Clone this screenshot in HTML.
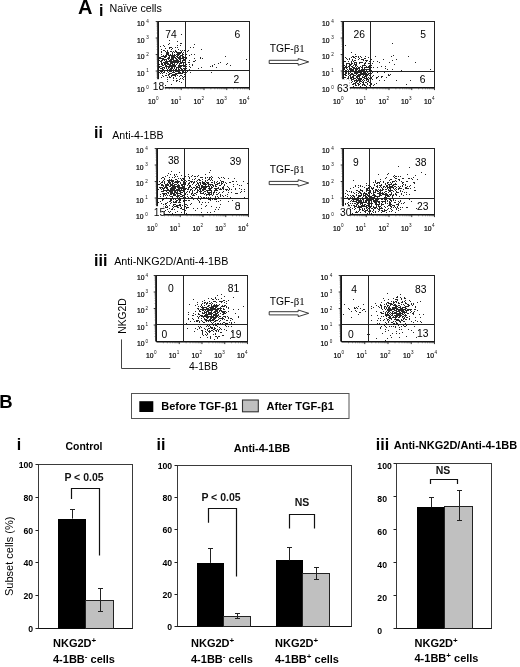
<!DOCTYPE html>
<html><head><meta charset="utf-8"><title>Figure</title>
<style>html,body{margin:0;padding:0;background:#fff}svg{display:block}</style>
</head><body>
<svg width="520" height="667" viewBox="0 0 520 667" font-family='"Liberation Sans", sans-serif'>
<rect width="520" height="667" fill="#fff"/>
<text x="78.0" y="14.2" font-size="20" font-weight="bold" text-anchor="start" fill="#000" >A</text>
<text x="99.0" y="15.6" font-size="16" font-weight="bold" text-anchor="start" fill="#000" >i</text>
<text x="109.5" y="11.8" font-size="10.7" font-weight="normal" text-anchor="start" fill="#000" >Naïve cells</text>
<text x="94.0" y="137.7" font-size="16" font-weight="bold" text-anchor="start" fill="#000" >ii</text>
<text x="112.3" y="138.8" font-size="10.6" font-weight="normal" text-anchor="start" fill="#000" >Anti-4-1BB</text>
<text x="94.0" y="265.5" font-size="16" font-weight="bold" text-anchor="start" fill="#000" >iii</text>
<text x="114.2" y="264.6" font-size="10.75" font-weight="normal" text-anchor="start" fill="#000" >Anti-NKG2D/Anti-4-1BB</text>
<path d="M190 47h1v1h-1zM168 58h1v1h-1zM173 66h1v1h-1zM177 60h1v1h-1zM165 62h1v1h-1zM173 55h1v1h-1zM173 74h1v1h-1zM183 79h1v1h-1zM179 59h1v1h-1zM166 63h1v1h-1zM171 68h1v1h-1zM178 69h1v1h-1zM170 68h1v1h-1zM170 70h1v1h-1zM178 67h1v1h-1zM174 52h1v1h-1zM175 61h1v1h-1zM174 54h1v1h-1zM169 60h1v1h-1zM193 61h1v1h-1zM172 58h1v1h-1zM169 73h1v1h-1zM183 77h1v1h-1zM168 59h1v1h-1zM165 66h1v1h-1zM183 68h1v1h-1zM178 58h1v1h-1zM166 67h1v1h-1zM161 54h1v1h-1zM187 71h1v1h-1zM169 43h1v1h-1zM181 66h1v1h-1zM171 67h1v1h-1zM165 64h1v1h-1zM176 59h1v1h-1zM175 75h1v1h-1zM167 61h1v1h-1zM175 55h1v1h-1zM174 65h1v1h-1zM175 57h1v1h-1zM171 66h1v1h-1zM170 64h1v1h-1zM178 66h1v1h-1zM172 62h1v1h-1zM185 65h1v1h-1zM169 57h1v1h-1zM172 53h1v1h-1zM169 69h1v1h-1zM164 68h1v1h-1zM161 71h1v1h-1zM162 63h1v1h-1zM170 60h1v1h-1zM161 62h1v1h-1zM188 62h1v1h-1zM170 62h1v1h-1zM174 64h1v1h-1zM188 50h1v1h-1zM170 55h1v1h-1zM176 70h1v1h-1zM180 70h1v1h-1zM179 53h1v1h-1zM182 55h1v1h-1zM177 55h1v1h-1zM163 55h1v1h-1zM171 55h1v1h-1zM167 58h1v1h-1zM186 64h1v1h-1zM179 64h1v1h-1zM178 49h1v1h-1zM179 67h1v1h-1zM172 68h1v1h-1zM172 55h1v1h-1zM172 67h1v1h-1zM181 58h1v1h-1zM168 68h1v1h-1zM164 59h1v1h-1zM176 60h1v1h-1zM177 57h1v1h-1zM167 62h1v1h-1zM174 72h1v1h-1zM170 66h1v1h-1zM176 69h1v1h-1zM183 64h1v1h-1zM178 73h1v1h-1zM160 61h1v1h-1zM174 61h1v1h-1zM173 71h1v1h-1zM168 63h1v1h-1zM166 55h1v1h-1zM169 55h1v1h-1zM164 64h1v1h-1zM179 66h1v1h-1zM174 66h1v1h-1zM172 59h1v1h-1zM180 45h1v1h-1zM177 52h1v1h-1zM176 51h1v1h-1zM182 53h1v1h-1zM175 76h1v1h-1zM166 65h1v1h-1zM169 67h1v1h-1zM167 54h1v1h-1zM175 50h1v1h-1zM162 68h1v1h-1zM173 59h1v1h-1zM159 67h1v1h-1zM176 68h1v1h-1zM165 56h1v1h-1zM178 70h1v1h-1zM161 63h1v1h-1zM160 57h1v1h-1zM167 51h1v1h-1zM164 70h1v1h-1zM173 69h1v1h-1zM171 62h1v1h-1zM180 73h1v1h-1zM184 66h1v1h-1zM180 78h1v1h-1zM185 53h1v1h-1zM182 56h1v1h-1zM163 72h1v1h-1zM177 75h1v1h-1zM177 62h1v1h-1zM184 57h1v1h-1zM166 66h1v1h-1zM178 62h1v1h-1zM162 60h1v1h-1zM164 56h1v1h-1zM164 50h1v1h-1zM172 61h1v1h-1zM182 65h1v1h-1zM163 45h1v1h-1zM171 58h1v1h-1zM182 60h1v1h-1zM178 72h1v1h-1zM159 57h1v1h-1zM179 69h1v1h-1zM168 67h1v1h-1zM176 74h1v1h-1zM176 67h1v1h-1zM185 63h1v1h-1zM174 75h1v1h-1zM170 73h1v1h-1zM184 70h1v1h-1zM175 74h1v1h-1zM165 59h1v1h-1zM183 71h1v1h-1zM165 57h1v1h-1zM182 72h1v1h-1zM183 58h1v1h-1zM159 72h1v1h-1zM169 66h1v1h-1zM180 59h1v1h-1zM176 54h1v1h-1zM181 82h1v1h-1zM168 53h1v1h-1zM171 65h1v1h-1zM161 51h1v1h-1zM179 70h1v1h-1zM170 63h1v1h-1zM177 54h1v1h-1zM167 63h1v1h-1zM167 81h1v1h-1zM173 58h1v1h-1zM171 76h1v1h-1zM179 71h1v1h-1zM170 71h1v1h-1zM173 64h1v1h-1zM165 75h1v1h-1zM172 65h1v1h-1zM180 56h1v1h-1zM171 56h1v1h-1zM182 58h1v1h-1zM174 56h1v1h-1zM177 53h1v1h-1zM184 50h1v1h-1zM169 65h1v1h-1zM167 52h1v1h-1zM175 51h1v1h-1zM171 51h1v1h-1zM180 58h1v1h-1zM167 64h1v1h-1zM170 59h1v1h-1zM171 60h1v1h-1zM173 62h1v1h-1zM163 58h1v1h-1zM172 64h1v1h-1zM179 58h1v1h-1zM185 56h1v1h-1zM181 73h1v1h-1zM173 61h1v1h-1zM167 70h1v1h-1zM168 61h1v1h-1zM179 61h1v1h-1zM165 61h1v1h-1zM179 73h1v1h-1zM168 54h1v1h-1zM167 53h1v1h-1zM180 53h1v1h-1zM162 69h1v1h-1zM159 64h1v1h-1zM181 62h1v1h-1zM178 61h1v1h-1zM163 62h1v1h-1zM168 52h1v1h-1zM173 75h1v1h-1zM189 69h1v1h-1zM167 77h1v1h-1zM171 63h1v1h-1zM175 69h1v1h-1zM182 62h1v1h-1zM160 58h1v1h-1zM166 54h1v1h-1zM186 68h1v1h-1zM176 73h1v1h-1zM164 57h1v1h-1zM166 75h1v1h-1zM201 49h1v1h-1zM165 48h1v1h-1zM179 63h1v1h-1zM175 60h1v1h-1zM164 46h1v1h-1zM161 56h1v1h-1zM179 81h1v1h-1zM172 54h1v1h-1zM184 76h1v1h-1zM180 57h1v1h-1zM166 68h1v1h-1zM159 58h1v1h-1zM176 71h1v1h-1zM177 67h1v1h-1zM172 48h1v1h-1zM190 72h1v1h-1zM162 64h1v1h-1zM177 63h1v1h-1zM180 67h1v1h-1zM165 55h1v1h-1zM192 64h1v1h-1zM171 71h1v1h-1zM165 63h1v1h-1zM183 56h1v1h-1zM168 66h1v1h-1zM166 60h1v1h-1zM165 65h1v1h-1zM173 60h1v1h-1zM178 57h1v1h-1zM190 67h1v1h-1zM172 63h1v1h-1zM161 49h1v1h-1zM184 72h1v1h-1zM172 52h1v1h-1zM178 55h1v1h-1zM182 54h1v1h-1zM170 61h1v1h-1zM163 65h1v1h-1zM172 66h1v1h-1zM171 49h1v1h-1zM180 66h1v1h-1zM182 76h1v1h-1zM173 56h1v1h-1zM178 65h1v1h-1zM183 66h1v1h-1zM172 57h1v1h-1zM180 50h1v1h-1zM177 59h1v1h-1zM174 70h1v1h-1zM186 57h1v1h-1zM168 57h1v1h-1zM186 66h1v1h-1zM181 63h1v1h-1zM169 56h1v1h-1zM166 73h1v1h-1zM176 61h1v1h-1zM161 77h1v1h-1zM169 74h1v1h-1zM166 56h1v1h-1zM169 77h1v1h-1zM182 73h1v1h-1zM172 75h1v1h-1zM178 52h1v1h-1zM165 51h1v1h-1zM178 54h1v1h-1zM176 78h1v1h-1zM169 47h1v1h-1zM180 72h1v1h-1zM194 58h1v1h-1zM164 62h1v1h-1zM178 68h1v1h-1zM180 62h1v1h-1zM183 57h1v1h-1zM167 66h1v1h-1zM163 59h1v1h-1zM176 62h1v1h-1zM173 70h1v1h-1zM169 61h1v1h-1zM163 76h1v1h-1zM180 65h1v1h-1zM164 67h1v1h-1zM170 69h1v1h-1zM178 53h1v1h-1zM166 53h1v1h-1zM161 64h1v1h-1zM181 51h1v1h-1zM184 69h1v1h-1zM161 66h1v1h-1zM177 71h1v1h-1zM183 54h1v1h-1zM183 59h1v1h-1zM168 55h1v1h-1zM166 52h1v1h-1zM169 71h1v1h-1zM174 55h1v1h-1zM180 75h1v1h-1zM183 65h1v1h-1zM180 55h1v1h-1zM171 69h1v1h-1zM160 66h1v1h-1zM175 73h1v1h-1zM169 76h1v1h-1zM164 72h1v1h-1zM160 71h1v1h-1zM176 58h1v1h-1zM186 58h1v1h-1zM164 71h1v1h-1zM160 70h1v1h-1zM189 62h1v1h-1zM162 65h1v1h-1zM162 73h1v1h-1zM160 68h1v1h-1zM175 58h1v1h-1zM175 62h1v1h-1zM163 70h1v1h-1zM160 46h1v1h-1zM174 67h1v1h-1zM161 58h1v1h-1zM173 72h1v1h-1zM162 67h1v1h-1zM169 58h1v1h-1zM171 61h1v1h-1zM182 78h1v1h-1zM174 57h1v1h-1zM177 56h1v1h-1zM171 73h1v1h-1zM181 43h1v1h-1zM179 72h1v1h-1zM161 61h1v1h-1zM176 52h1v1h-1zM183 60h1v1h-1zM166 61h1v1h-1zM198 68h1v1h-1zM169 40h1v1h-1zM180 43h1v1h-1zM186 72h1v1h-1zM167 50h1v1h-1zM179 54h1v1h-1zM185 61h1v1h-1zM174 74h1v1h-1zM165 70h1v1h-1zM171 84h1v1h-1zM168 75h1v1h-1zM182 57h1v1h-1zM185 73h1v1h-1zM184 62h1v1h-1zM189 66h1v1h-1zM183 63h1v1h-1zM163 67h1v1h-1zM176 56h1v1h-1zM170 47h1v1h-1zM173 51h1v1h-1zM161 52h1v1h-1zM177 45h1v1h-1zM161 68h1v1h-1zM184 68h1v1h-1zM187 70h1v1h-1zM189 60h1v1h-1zM184 65h1v1h-1zM170 77h1v1h-1zM182 61h1v1h-1zM163 56h1v1h-1zM168 64h1v1h-1zM171 59h1v1h-1zM179 52h1v1h-1zM172 74h1v1h-1zM180 68h1v1h-1zM181 65h1v1h-1zM159 66h1v1h-1zM187 51h1v1h-1zM171 57h1v1h-1zM162 71h1v1h-1zM171 47h1v1h-1zM181 68h1v1h-1zM162 75h1v1h-1zM164 63h1v1h-1zM178 71h1v1h-1zM172 72h1v1h-1zM186 70h1v1h-1zM174 68h1v1h-1zM174 63h1v1h-1zM167 79h1v1h-1zM192 65h1v1h-1zM161 72h1v1h-1zM170 54h1v1h-1zM160 73h1v1h-1zM176 64h1v1h-1zM166 62h1v1h-1zM162 70h1v1h-1zM171 75h1v1h-1zM162 58h1v1h-1zM177 73h1v1h-1zM184 59h1v1h-1zM181 69h1v1h-1zM163 86h1v1h-1zM176 81h1v1h-1zM178 60h1v1h-1zM184 74h1v1h-1zM183 62h1v1h-1zM170 51h1v1h-1zM186 54h1v1h-1zM185 66h1v1h-1zM194 61h1v1h-1zM179 56h1v1h-1zM182 69h1v1h-1zM168 72h1v1h-1zM174 60h1v1h-1zM181 34h1v1h-1zM169 64h1v1h-1zM172 56h1v1h-1zM180 63h1v1h-1zM181 75h1v1h-1zM166 59h1v1h-1zM180 60h1v1h-1zM164 60h1v1h-1zM177 41h1v1h-1zM194 54h1v1h-1zM159 60h1v1h-1zM170 65h1v1h-1zM162 56h1v1h-1zM168 44h1v1h-1zM167 71h1v1h-1zM179 65h1v1h-1zM175 71h1v1h-1zM175 65h1v1h-1zM179 76h1v1h-1zM175 47h1v1h-1zM173 57h1v1h-1zM172 70h1v1h-1zM182 50h1v1h-1zM184 60h1v1h-1zM168 74h1v1h-1zM167 69h1v1h-1zM183 52h1v1h-1zM169 70h1v1h-1zM179 79h1v1h-1zM173 80h1v1h-1zM168 70h1v1h-1zM174 62h1v1h-1zM177 80h1v1h-1zM175 66h1v1h-1zM173 77h1v1h-1zM180 52h1v1h-1zM181 55h1v1h-1zM161 60h1v1h-1zM169 48h1v1h-1zM181 52h1v1h-1zM163 69h1v1h-1zM183 72h1v1h-1zM162 59h1v1h-1zM173 65h1v1h-1zM189 55h1v1h-1zM165 85h1v1h-1zM173 78h1v1h-1zM180 61h1v1h-1zM177 61h1v1h-1zM176 80h1v1h-1zM182 71h1v1h-1zM226 64h1v1h-1zM194 44h1v1h-1zM195 60h1v1h-1zM201 67h1v1h-1zM202 58h1v1h-1zM191 54h1v1h-1zM212 65h1v1h-1zM246 59h1v1h-1zM212 66h1v1h-1zM177 47h1v1h-1zM200 58h1v1h-1zM163 50h1v1h-1zM218 63h1v1h-1zM200 57h1v1h-1zM210 66h1v1h-1zM193 47h1v1h-1zM220 62h1v1h-1zM214 64h1v1h-1zM189 64h1v1h-1zM211 72h1v1h-1zM216 67h1v1h-1zM230 65h1v1h-1zM179 57h1v1h-1zM227 63h1v1h-1zM225 56h1v1h-1z" fill="#000" opacity="0.85"/>
<rect x="158.50" y="21.50" width="91.00" height="66.00" fill="none" stroke="#222" stroke-width="1"/>
<line x1="158.10" y1="21.50" x2="158.10" y2="87.50" stroke="#111" stroke-width="1.8" />
<line x1="158.50" y1="87.80" x2="249.50" y2="87.80" stroke="#111" stroke-width="1.6" />
<line x1="155.70" y1="71.00" x2="158.50" y2="71.00" stroke="#222" stroke-width="0.9" />
<line x1="155.70" y1="54.50" x2="158.50" y2="54.50" stroke="#222" stroke-width="0.9" />
<line x1="155.70" y1="38.00" x2="158.50" y2="38.00" stroke="#222" stroke-width="0.9" />
<line x1="155.70" y1="21.50" x2="158.50" y2="21.50" stroke="#222" stroke-width="0.9" />
<line x1="181.25" y1="87.50" x2="181.25" y2="90.10" stroke="#222" stroke-width="0.9" />
<line x1="204.00" y1="87.50" x2="204.00" y2="90.10" stroke="#222" stroke-width="0.9" />
<line x1="226.75" y1="87.50" x2="226.75" y2="90.10" stroke="#222" stroke-width="0.9" />
<line x1="249.50" y1="87.50" x2="249.50" y2="90.10" stroke="#222" stroke-width="0.9" />
<path d="M156.60 82.53H158.50M165.35 87.50V89.30M156.60 79.63H158.50M169.35 87.50V89.30M156.60 77.57H158.50M172.20 87.50V89.30M156.60 75.97H158.50M174.40 87.50V89.30M156.60 74.66H158.50M176.20 87.50V89.30M156.60 73.56H158.50M177.73 87.50V89.30M156.60 72.60H158.50M179.05 87.50V89.30M156.60 71.75H158.50M180.21 87.50V89.30M156.60 66.03H158.50M188.10 87.50V89.30M156.60 63.13H158.50M192.10 87.50V89.30M156.60 61.07H158.50M194.95 87.50V89.30M156.60 59.47H158.50M197.15 87.50V89.30M156.60 58.16H158.50M198.95 87.50V89.30M156.60 57.06H158.50M200.48 87.50V89.30M156.60 56.10H158.50M201.80 87.50V89.30M156.60 55.25H158.50M202.96 87.50V89.30M156.60 49.53H158.50M210.85 87.50V89.30M156.60 46.63H158.50M214.85 87.50V89.30M156.60 44.57H158.50M217.70 87.50V89.30M156.60 42.97H158.50M219.90 87.50V89.30M156.60 41.66H158.50M221.70 87.50V89.30M156.60 40.56H158.50M223.23 87.50V89.30M156.60 39.60H158.50M224.55 87.50V89.30M156.60 38.75H158.50M225.71 87.50V89.30M156.60 33.03H158.50M233.60 87.50V89.30M156.60 30.13H158.50M237.60 87.50V89.30M156.60 28.07H158.50M240.45 87.50V89.30M156.60 26.47H158.50M242.65 87.50V89.30M156.60 25.16H158.50M244.45 87.50V89.30M156.60 24.06H158.50M245.98 87.50V89.30M156.60 23.10H158.50M247.30 87.50V89.30M156.60 22.25H158.50M248.46 87.50V89.30" stroke="#333" stroke-width="0.5" fill="none"/>
<line x1="185.50" y1="21.50" x2="185.50" y2="87.50" stroke="#222" stroke-width="1" />
<line x1="158.50" y1="70.50" x2="249.50" y2="70.50" stroke="#222" stroke-width="1" />
<rect x="152.5" y="79.2" width="12.3" height="11" fill="#fff"/>
<text x="136.9" y="92.4" font-size="6.8" font-weight="normal" text-anchor="start" fill="#000" stroke="#000" stroke-width="0.2">10</text>
<text x="146.2" y="88.5" font-size="4.6" font-weight="normal" text-anchor="start" fill="#111" >0</text>
<text x="136.9" y="75.9" font-size="6.8" font-weight="normal" text-anchor="start" fill="#000" stroke="#000" stroke-width="0.2">10</text>
<text x="146.2" y="72.0" font-size="4.6" font-weight="normal" text-anchor="start" fill="#111" >1</text>
<text x="136.9" y="59.4" font-size="6.8" font-weight="normal" text-anchor="start" fill="#000" stroke="#000" stroke-width="0.2">10</text>
<text x="146.2" y="55.5" font-size="4.6" font-weight="normal" text-anchor="start" fill="#111" >2</text>
<text x="136.9" y="42.9" font-size="6.8" font-weight="normal" text-anchor="start" fill="#000" stroke="#000" stroke-width="0.2">10</text>
<text x="146.2" y="39.0" font-size="4.6" font-weight="normal" text-anchor="start" fill="#111" >3</text>
<text x="136.9" y="26.4" font-size="6.8" font-weight="normal" text-anchor="start" fill="#000" stroke="#000" stroke-width="0.2">10</text>
<text x="146.2" y="22.5" font-size="4.6" font-weight="normal" text-anchor="start" fill="#111" >4</text>
<text x="147.9" y="104.1" font-size="6.8" font-weight="normal" text-anchor="start" fill="#000" stroke="#000" stroke-width="0.2">10</text>
<text x="155.9" y="99.5" font-size="4.6" font-weight="normal" text-anchor="start" fill="#111" >0</text>
<text x="170.7" y="104.1" font-size="6.8" font-weight="normal" text-anchor="start" fill="#000" stroke="#000" stroke-width="0.2">10</text>
<text x="178.7" y="99.5" font-size="4.6" font-weight="normal" text-anchor="start" fill="#111" >1</text>
<text x="193.4" y="104.1" font-size="6.8" font-weight="normal" text-anchor="start" fill="#000" stroke="#000" stroke-width="0.2">10</text>
<text x="201.4" y="99.5" font-size="4.6" font-weight="normal" text-anchor="start" fill="#111" >2</text>
<text x="216.2" y="104.1" font-size="6.8" font-weight="normal" text-anchor="start" fill="#000" stroke="#000" stroke-width="0.2">10</text>
<text x="224.2" y="99.5" font-size="4.6" font-weight="normal" text-anchor="start" fill="#111" >3</text>
<text x="238.9" y="104.1" font-size="6.8" font-weight="normal" text-anchor="start" fill="#000" stroke="#000" stroke-width="0.2">10</text>
<text x="246.9" y="99.5" font-size="4.6" font-weight="normal" text-anchor="start" fill="#111" >4</text>
<text x="165.3" y="38.0" font-size="10.3" font-weight="normal" text-anchor="start" fill="#000" >74</text>
<text x="234.6" y="37.6" font-size="10.3" font-weight="normal" text-anchor="start" fill="#000" >6</text>
<text x="233.6" y="83.4" font-size="10.3" font-weight="normal" text-anchor="start" fill="#000" >2</text>
<text x="152.8" y="89.9" font-size="10.3" font-weight="normal" text-anchor="start" fill="#000" >18</text>
<path d="M367 74h1v1h-1zM370 75h1v1h-1zM356 76h1v1h-1zM352 60h1v1h-1zM356 67h1v1h-1zM352 74h1v1h-1zM357 76h1v1h-1zM355 75h1v1h-1zM357 68h1v1h-1zM353 79h1v1h-1zM358 76h1v1h-1zM377 61h1v1h-1zM359 67h1v1h-1zM346 75h1v1h-1zM345 61h1v1h-1zM351 52h1v1h-1zM363 75h1v1h-1zM356 79h1v1h-1zM348 74h1v1h-1zM349 75h1v1h-1zM354 72h1v1h-1zM349 66h1v1h-1zM364 70h1v1h-1zM363 84h1v1h-1zM356 70h1v1h-1zM347 83h1v1h-1zM365 82h1v1h-1zM350 69h1v1h-1zM353 67h1v1h-1zM367 69h1v1h-1zM366 78h1v1h-1zM359 80h1v1h-1zM364 69h1v1h-1zM364 58h1v1h-1zM354 83h1v1h-1zM370 62h1v1h-1zM362 77h1v1h-1zM369 78h1v1h-1zM356 68h1v1h-1zM365 85h1v1h-1zM344 68h1v1h-1zM350 68h1v1h-1zM370 76h1v1h-1zM371 83h1v1h-1zM357 77h1v1h-1zM370 72h1v1h-1zM377 72h1v1h-1zM365 72h1v1h-1zM373 75h1v1h-1zM344 69h1v1h-1zM363 82h1v1h-1zM347 67h1v1h-1zM351 70h1v1h-1zM369 61h1v1h-1zM346 81h1v1h-1zM355 58h1v1h-1zM353 86h1v1h-1zM359 76h1v1h-1zM353 76h1v1h-1zM358 72h1v1h-1zM353 57h1v1h-1zM367 81h1v1h-1zM354 73h1v1h-1zM360 56h1v1h-1zM372 76h1v1h-1zM351 68h1v1h-1zM358 70h1v1h-1zM353 75h1v1h-1zM346 68h1v1h-1zM349 82h1v1h-1zM344 79h1v1h-1zM351 62h1v1h-1zM367 83h1v1h-1zM363 73h1v1h-1zM362 84h1v1h-1zM365 63h1v1h-1zM356 82h1v1h-1zM350 70h1v1h-1zM355 66h1v1h-1zM351 78h1v1h-1zM369 73h1v1h-1zM349 65h1v1h-1zM353 77h1v1h-1zM369 69h1v1h-1zM361 59h1v1h-1zM357 83h1v1h-1zM357 73h1v1h-1zM344 77h1v1h-1zM377 77h1v1h-1zM369 70h1v1h-1zM353 83h1v1h-1zM349 67h1v1h-1zM363 83h1v1h-1zM352 84h1v1h-1zM367 72h1v1h-1zM364 76h1v1h-1zM354 68h1v1h-1zM358 79h1v1h-1zM349 71h1v1h-1zM359 79h1v1h-1zM366 70h1v1h-1zM357 78h1v1h-1zM357 72h1v1h-1zM362 85h1v1h-1zM355 56h1v1h-1zM370 60h1v1h-1zM355 72h1v1h-1zM347 63h1v1h-1zM388 75h1v1h-1zM351 61h1v1h-1zM365 71h1v1h-1zM355 80h1v1h-1zM373 61h1v1h-1zM373 67h1v1h-1zM366 69h1v1h-1zM359 78h1v1h-1zM365 67h1v1h-1zM358 78h1v1h-1zM349 80h1v1h-1zM348 83h1v1h-1zM345 72h1v1h-1zM356 71h1v1h-1zM367 78h1v1h-1zM348 66h1v1h-1zM366 71h1v1h-1zM351 79h1v1h-1zM363 79h1v1h-1zM361 72h1v1h-1zM355 65h1v1h-1zM361 74h1v1h-1zM355 70h1v1h-1zM354 62h1v1h-1zM352 59h1v1h-1zM362 67h1v1h-1zM349 73h1v1h-1zM363 69h1v1h-1zM357 69h1v1h-1zM358 68h1v1h-1zM356 62h1v1h-1zM346 67h1v1h-1zM355 84h1v1h-1zM346 63h1v1h-1zM360 74h1v1h-1zM366 79h1v1h-1zM364 68h1v1h-1zM359 58h1v1h-1zM345 75h1v1h-1zM349 68h1v1h-1zM350 78h1v1h-1zM366 75h1v1h-1zM367 60h1v1h-1zM364 73h1v1h-1zM367 84h1v1h-1zM351 77h1v1h-1zM352 63h1v1h-1zM371 71h1v1h-1zM349 83h1v1h-1zM369 75h1v1h-1zM350 64h1v1h-1zM360 80h1v1h-1zM366 67h1v1h-1zM344 74h1v1h-1zM384 80h1v1h-1zM351 69h1v1h-1zM360 86h1v1h-1zM351 57h1v1h-1zM368 73h1v1h-1zM351 63h1v1h-1zM358 59h1v1h-1zM365 76h1v1h-1zM361 70h1v1h-1zM357 66h1v1h-1zM359 71h1v1h-1zM344 80h1v1h-1zM369 63h1v1h-1zM366 80h1v1h-1zM365 78h1v1h-1zM348 70h1v1h-1zM362 59h1v1h-1zM381 77h1v1h-1zM362 70h1v1h-1zM365 58h1v1h-1zM348 81h1v1h-1zM360 73h1v1h-1zM364 74h1v1h-1zM349 58h1v1h-1zM371 70h1v1h-1zM366 66h1v1h-1zM352 73h1v1h-1zM351 64h1v1h-1zM356 73h1v1h-1zM371 67h1v1h-1zM365 69h1v1h-1zM364 77h1v1h-1zM358 56h1v1h-1zM348 79h1v1h-1zM358 71h1v1h-1zM357 80h1v1h-1zM353 69h1v1h-1zM359 74h1v1h-1zM350 72h1v1h-1zM368 74h1v1h-1zM345 67h1v1h-1zM344 71h1v1h-1zM361 69h1v1h-1zM360 75h1v1h-1zM363 81h1v1h-1zM348 61h1v1h-1zM359 75h1v1h-1zM354 63h1v1h-1zM366 74h1v1h-1zM368 57h1v1h-1zM369 71h1v1h-1zM365 75h1v1h-1zM361 78h1v1h-1zM354 64h1v1h-1zM346 70h1v1h-1zM348 77h1v1h-1zM364 72h1v1h-1zM347 85h1v1h-1zM348 72h1v1h-1zM367 75h1v1h-1zM355 85h1v1h-1zM359 62h1v1h-1zM364 84h1v1h-1zM359 82h1v1h-1zM368 63h1v1h-1zM354 60h1v1h-1zM370 69h1v1h-1zM368 81h1v1h-1zM352 79h1v1h-1zM355 78h1v1h-1zM351 73h1v1h-1zM354 67h1v1h-1zM365 73h1v1h-1zM354 81h1v1h-1zM349 69h1v1h-1zM345 73h1v1h-1zM352 77h1v1h-1zM349 59h1v1h-1zM359 70h1v1h-1zM360 72h1v1h-1zM364 85h1v1h-1zM363 59h1v1h-1zM358 74h1v1h-1zM372 63h1v1h-1zM350 75h1v1h-1zM353 70h1v1h-1zM356 65h1v1h-1zM344 65h1v1h-1zM360 79h1v1h-1zM350 65h1v1h-1zM386 77h1v1h-1zM353 56h1v1h-1zM369 82h1v1h-1zM345 45h1v1h-1zM358 75h1v1h-1zM356 74h1v1h-1zM360 66h1v1h-1zM358 80h1v1h-1zM368 67h1v1h-1zM359 84h1v1h-1zM362 71h1v1h-1zM362 68h1v1h-1zM366 76h1v1h-1zM362 76h1v1h-1zM382 76h1v1h-1zM364 64h1v1h-1zM367 71h1v1h-1zM353 71h1v1h-1zM371 59h1v1h-1zM361 71h1v1h-1zM353 78h1v1h-1zM355 60h1v1h-1zM355 64h1v1h-1zM355 62h1v1h-1zM352 71h1v1h-1zM372 79h1v1h-1zM362 62h1v1h-1zM360 70h1v1h-1zM348 84h1v1h-1zM361 57h1v1h-1zM366 77h1v1h-1zM364 78h1v1h-1zM346 72h1v1h-1zM358 84h1v1h-1zM354 75h1v1h-1zM352 81h1v1h-1zM353 65h1v1h-1zM346 73h1v1h-1zM351 82h1v1h-1zM363 77h1v1h-1zM370 63h1v1h-1zM347 78h1v1h-1zM361 73h1v1h-1zM362 65h1v1h-1zM353 61h1v1h-1zM346 85h1v1h-1zM355 82h1v1h-1zM356 64h1v1h-1zM354 57h1v1h-1zM361 81h1v1h-1zM364 67h1v1h-1zM368 80h1v1h-1zM346 64h1v1h-1zM363 72h1v1h-1zM359 72h1v1h-1zM356 63h1v1h-1zM352 70h1v1h-1zM371 78h1v1h-1zM348 78h1v1h-1zM346 79h1v1h-1zM376 83h1v1h-1zM349 63h1v1h-1zM355 69h1v1h-1zM349 85h1v1h-1zM369 85h1v1h-1zM355 68h1v1h-1zM356 81h1v1h-1zM356 85h1v1h-1zM358 85h1v1h-1zM359 77h1v1h-1zM352 56h1v1h-1zM357 81h1v1h-1zM362 73h1v1h-1zM366 86h1v1h-1zM365 65h1v1h-1zM351 80h1v1h-1zM346 58h1v1h-1zM371 77h1v1h-1zM350 77h1v1h-1zM366 82h1v1h-1zM352 67h1v1h-1zM362 69h1v1h-1zM353 74h1v1h-1zM352 76h1v1h-1zM354 71h1v1h-1zM355 73h1v1h-1zM346 66h1v1h-1zM368 77h1v1h-1zM360 83h1v1h-1zM376 77h1v1h-1zM349 64h1v1h-1zM354 80h1v1h-1zM364 65h1v1h-1zM368 79h1v1h-1zM368 69h1v1h-1zM361 79h1v1h-1zM378 76h1v1h-1zM366 60h1v1h-1zM366 61h1v1h-1zM388 74h1v1h-1zM365 62h1v1h-1zM362 66h1v1h-1zM365 74h1v1h-1zM365 60h1v1h-1zM346 82h1v1h-1zM359 68h1v1h-1zM351 66h1v1h-1zM362 74h1v1h-1zM345 66h1v1h-1zM364 63h1v1h-1zM354 78h1v1h-1zM356 72h1v1h-1zM359 81h1v1h-1zM347 69h1v1h-1zM369 68h1v1h-1zM362 80h1v1h-1zM352 66h1v1h-1zM355 71h1v1h-1zM355 83h1v1h-1zM363 65h1v1h-1zM355 54h1v1h-1zM350 74h1v1h-1zM361 67h1v1h-1zM345 74h1v1h-1zM345 77h1v1h-1zM359 69h1v1h-1zM350 71h1v1h-1zM368 66h1v1h-1zM369 67h1v1h-1zM344 67h1v1h-1zM361 62h1v1h-1zM344 61h1v1h-1zM371 84h1v1h-1zM356 56h1v1h-1zM345 57h1v1h-1zM373 85h1v1h-1zM372 72h1v1h-1zM351 74h1v1h-1zM363 70h1v1h-1zM369 65h1v1h-1zM370 77h1v1h-1zM360 62h1v1h-1zM370 64h1v1h-1zM369 66h1v1h-1zM357 71h1v1h-1zM362 82h1v1h-1zM358 67h1v1h-1zM376 78h1v1h-1zM358 83h1v1h-1zM360 78h1v1h-1zM379 80h1v1h-1zM356 80h1v1h-1zM366 73h1v1h-1zM371 73h1v1h-1zM347 80h1v1h-1zM346 65h1v1h-1zM353 68h1v1h-1zM375 71h1v1h-1zM348 76h1v1h-1zM363 74h1v1h-1zM360 81h1v1h-1zM367 79h1v1h-1zM359 63h1v1h-1zM347 59h1v1h-1zM357 75h1v1h-1zM353 84h1v1h-1zM358 57h1v1h-1zM364 71h1v1h-1zM348 63h1v1h-1zM351 71h1v1h-1zM367 67h1v1h-1zM345 70h1v1h-1zM370 78h1v1h-1zM350 76h1v1h-1zM352 69h1v1h-1zM356 69h1v1h-1zM381 66h1v1h-1zM363 60h1v1h-1zM370 68h1v1h-1zM356 77h1v1h-1zM348 73h1v1h-1zM392 69h1v1h-1zM385 68h1v1h-1zM375 56h1v1h-1zM365 56h1v1h-1zM408 56h1v1h-1zM393 55h1v1h-1zM383 59h1v1h-1zM381 76h1v1h-1zM415 62h1v1h-1zM396 59h1v1h-1zM384 72h1v1h-1zM374 84h1v1h-1zM389 62h1v1h-1zM377 67h1v1h-1zM396 80h1v1h-1zM430 69h1v1h-1zM370 74h1v1h-1zM401 70h1v1h-1zM391 56h1v1h-1zM392 60h1v1h-1zM385 66h1v1h-1zM364 80h1v1h-1zM390 74h1v1h-1zM406 84h1v1h-1zM410 80h1v1h-1zM379 62h1v1h-1zM381 71h1v1h-1zM387 69h1v1h-1zM371 65h1v1h-1zM420 77h1v1h-1zM389 75h1v1h-1zM392 43h1v1h-1zM394 64h1v1h-1z" fill="#000" opacity="0.85"/>
<rect x="343.50" y="21.50" width="91.00" height="66.00" fill="none" stroke="#222" stroke-width="1"/>
<line x1="343.10" y1="21.50" x2="343.10" y2="87.50" stroke="#111" stroke-width="1.8" />
<line x1="343.50" y1="87.80" x2="434.50" y2="87.80" stroke="#111" stroke-width="1.6" />
<line x1="340.70" y1="71.00" x2="343.50" y2="71.00" stroke="#222" stroke-width="0.9" />
<line x1="340.70" y1="54.50" x2="343.50" y2="54.50" stroke="#222" stroke-width="0.9" />
<line x1="340.70" y1="38.00" x2="343.50" y2="38.00" stroke="#222" stroke-width="0.9" />
<line x1="340.70" y1="21.50" x2="343.50" y2="21.50" stroke="#222" stroke-width="0.9" />
<line x1="366.25" y1="87.50" x2="366.25" y2="90.10" stroke="#222" stroke-width="0.9" />
<line x1="389.00" y1="87.50" x2="389.00" y2="90.10" stroke="#222" stroke-width="0.9" />
<line x1="411.75" y1="87.50" x2="411.75" y2="90.10" stroke="#222" stroke-width="0.9" />
<line x1="434.50" y1="87.50" x2="434.50" y2="90.10" stroke="#222" stroke-width="0.9" />
<path d="M341.60 82.53H343.50M350.35 87.50V89.30M341.60 79.63H343.50M354.35 87.50V89.30M341.60 77.57H343.50M357.20 87.50V89.30M341.60 75.97H343.50M359.40 87.50V89.30M341.60 74.66H343.50M361.20 87.50V89.30M341.60 73.56H343.50M362.73 87.50V89.30M341.60 72.60H343.50M364.05 87.50V89.30M341.60 71.75H343.50M365.21 87.50V89.30M341.60 66.03H343.50M373.10 87.50V89.30M341.60 63.13H343.50M377.10 87.50V89.30M341.60 61.07H343.50M379.95 87.50V89.30M341.60 59.47H343.50M382.15 87.50V89.30M341.60 58.16H343.50M383.95 87.50V89.30M341.60 57.06H343.50M385.48 87.50V89.30M341.60 56.10H343.50M386.80 87.50V89.30M341.60 55.25H343.50M387.96 87.50V89.30M341.60 49.53H343.50M395.85 87.50V89.30M341.60 46.63H343.50M399.85 87.50V89.30M341.60 44.57H343.50M402.70 87.50V89.30M341.60 42.97H343.50M404.90 87.50V89.30M341.60 41.66H343.50M406.70 87.50V89.30M341.60 40.56H343.50M408.23 87.50V89.30M341.60 39.60H343.50M409.55 87.50V89.30M341.60 38.75H343.50M410.71 87.50V89.30M341.60 33.03H343.50M418.60 87.50V89.30M341.60 30.13H343.50M422.60 87.50V89.30M341.60 28.07H343.50M425.45 87.50V89.30M341.60 26.47H343.50M427.65 87.50V89.30M341.60 25.16H343.50M429.45 87.50V89.30M341.60 24.06H343.50M430.98 87.50V89.30M341.60 23.10H343.50M432.30 87.50V89.30M341.60 22.25H343.50M433.46 87.50V89.30" stroke="#333" stroke-width="0.5" fill="none"/>
<line x1="370.50" y1="21.50" x2="370.50" y2="87.50" stroke="#222" stroke-width="1" />
<line x1="343.50" y1="71.50" x2="434.50" y2="71.50" stroke="#222" stroke-width="1" />
<rect x="337.5" y="79.2" width="12.3" height="11" fill="#fff"/>
<text x="321.9" y="92.4" font-size="6.8" font-weight="normal" text-anchor="start" fill="#000" stroke="#000" stroke-width="0.2">10</text>
<text x="331.2" y="88.5" font-size="4.6" font-weight="normal" text-anchor="start" fill="#111" >0</text>
<text x="321.9" y="75.9" font-size="6.8" font-weight="normal" text-anchor="start" fill="#000" stroke="#000" stroke-width="0.2">10</text>
<text x="331.2" y="72.0" font-size="4.6" font-weight="normal" text-anchor="start" fill="#111" >1</text>
<text x="321.9" y="59.4" font-size="6.8" font-weight="normal" text-anchor="start" fill="#000" stroke="#000" stroke-width="0.2">10</text>
<text x="331.2" y="55.5" font-size="4.6" font-weight="normal" text-anchor="start" fill="#111" >2</text>
<text x="321.9" y="42.9" font-size="6.8" font-weight="normal" text-anchor="start" fill="#000" stroke="#000" stroke-width="0.2">10</text>
<text x="331.2" y="39.0" font-size="4.6" font-weight="normal" text-anchor="start" fill="#111" >3</text>
<text x="321.9" y="26.4" font-size="6.8" font-weight="normal" text-anchor="start" fill="#000" stroke="#000" stroke-width="0.2">10</text>
<text x="331.2" y="22.5" font-size="4.6" font-weight="normal" text-anchor="start" fill="#111" >4</text>
<text x="332.9" y="104.1" font-size="6.8" font-weight="normal" text-anchor="start" fill="#000" stroke="#000" stroke-width="0.2">10</text>
<text x="340.9" y="99.5" font-size="4.6" font-weight="normal" text-anchor="start" fill="#111" >0</text>
<text x="355.6" y="104.1" font-size="6.8" font-weight="normal" text-anchor="start" fill="#000" stroke="#000" stroke-width="0.2">10</text>
<text x="363.6" y="99.5" font-size="4.6" font-weight="normal" text-anchor="start" fill="#111" >1</text>
<text x="378.4" y="104.1" font-size="6.8" font-weight="normal" text-anchor="start" fill="#000" stroke="#000" stroke-width="0.2">10</text>
<text x="386.4" y="99.5" font-size="4.6" font-weight="normal" text-anchor="start" fill="#111" >2</text>
<text x="401.1" y="104.1" font-size="6.8" font-weight="normal" text-anchor="start" fill="#000" stroke="#000" stroke-width="0.2">10</text>
<text x="409.1" y="99.5" font-size="4.6" font-weight="normal" text-anchor="start" fill="#111" >3</text>
<text x="423.9" y="104.1" font-size="6.8" font-weight="normal" text-anchor="start" fill="#000" stroke="#000" stroke-width="0.2">10</text>
<text x="431.9" y="99.5" font-size="4.6" font-weight="normal" text-anchor="start" fill="#111" >4</text>
<text x="353.5" y="37.8" font-size="10.3" font-weight="normal" text-anchor="start" fill="#000" >26</text>
<text x="420.2" y="37.6" font-size="10.3" font-weight="normal" text-anchor="start" fill="#000" >5</text>
<text x="419.8" y="83.4" font-size="10.3" font-weight="normal" text-anchor="start" fill="#000" >6</text>
<text x="337.0" y="91.6" font-size="10.3" font-weight="normal" text-anchor="start" fill="#000" >63</text>
<path d="M170 189h1v1h-1zM175 182h1v1h-1zM180 187h1v1h-1zM167 184h1v1h-1zM170 190h1v1h-1zM180 188h1v1h-1zM170 182h1v1h-1zM176 189h1v1h-1zM168 185h1v1h-1zM169 186h1v1h-1zM164 187h1v1h-1zM172 186h1v1h-1zM164 178h1v1h-1zM173 185h1v1h-1zM172 191h1v1h-1zM189 180h1v1h-1zM172 189h1v1h-1zM174 185h1v1h-1zM171 191h1v1h-1zM172 192h1v1h-1zM174 193h1v1h-1zM162 191h1v1h-1zM181 192h1v1h-1zM166 184h1v1h-1zM166 186h1v1h-1zM162 181h1v1h-1zM184 186h1v1h-1zM175 186h1v1h-1zM169 183h1v1h-1zM178 193h1v1h-1zM173 199h1v1h-1zM167 188h1v1h-1zM175 199h1v1h-1zM175 194h1v1h-1zM179 202h1v1h-1zM164 194h1v1h-1zM165 190h1v1h-1zM171 190h1v1h-1zM191 187h1v1h-1zM164 181h1v1h-1zM180 182h1v1h-1zM173 194h1v1h-1zM176 190h1v1h-1zM178 195h1v1h-1zM162 199h1v1h-1zM175 190h1v1h-1zM168 190h1v1h-1zM159 181h1v1h-1zM179 198h1v1h-1zM169 190h1v1h-1zM175 192h1v1h-1zM163 199h1v1h-1zM166 193h1v1h-1zM176 186h1v1h-1zM162 177h1v1h-1zM174 184h1v1h-1zM167 187h1v1h-1zM166 187h1v1h-1zM178 188h1v1h-1zM170 184h1v1h-1zM170 185h1v1h-1zM176 184h1v1h-1zM164 190h1v1h-1zM179 188h1v1h-1zM180 190h1v1h-1zM183 189h1v1h-1zM164 179h1v1h-1zM174 191h1v1h-1zM174 175h1v1h-1zM185 176h1v1h-1zM184 184h1v1h-1zM164 183h1v1h-1zM164 182h1v1h-1zM171 196h1v1h-1zM167 192h1v1h-1zM177 195h1v1h-1zM183 187h1v1h-1zM165 186h1v1h-1zM181 180h1v1h-1zM177 182h1v1h-1zM170 188h1v1h-1zM158 189h1v1h-1zM170 174h1v1h-1zM172 185h1v1h-1zM195 193h1v1h-1zM165 184h1v1h-1zM199 202h1v1h-1zM173 187h1v1h-1zM185 197h1v1h-1zM170 186h1v1h-1zM175 184h1v1h-1zM183 182h1v1h-1zM165 185h1v1h-1zM176 198h1v1h-1zM160 194h1v1h-1zM173 195h1v1h-1zM170 180h1v1h-1zM183 186h1v1h-1zM184 191h1v1h-1zM179 189h1v1h-1zM172 184h1v1h-1zM159 184h1v1h-1zM177 180h1v1h-1zM179 191h1v1h-1zM183 179h1v1h-1zM178 196h1v1h-1zM184 178h1v1h-1zM165 187h1v1h-1zM163 189h1v1h-1zM172 190h1v1h-1zM173 188h1v1h-1zM172 188h1v1h-1zM163 195h1v1h-1zM171 187h1v1h-1zM162 188h1v1h-1zM175 191h1v1h-1zM160 196h1v1h-1zM169 177h1v1h-1zM175 198h1v1h-1zM184 187h1v1h-1zM177 189h1v1h-1zM170 193h1v1h-1zM167 183h1v1h-1zM168 189h1v1h-1zM179 190h1v1h-1zM177 193h1v1h-1zM177 191h1v1h-1zM167 195h1v1h-1zM166 185h1v1h-1zM178 184h1v1h-1zM182 188h1v1h-1zM182 184h1v1h-1zM174 182h1v1h-1zM162 193h1v1h-1zM171 193h1v1h-1zM163 188h1v1h-1zM174 194h1v1h-1zM183 188h1v1h-1zM176 179h1v1h-1zM176 181h1v1h-1zM172 183h1v1h-1zM179 193h1v1h-1zM185 188h1v1h-1zM170 196h1v1h-1zM167 180h1v1h-1zM174 192h1v1h-1zM174 177h1v1h-1zM169 181h1v1h-1zM169 195h1v1h-1zM189 182h1v1h-1zM175 187h1v1h-1zM164 188h1v1h-1zM172 182h1v1h-1zM177 186h1v1h-1zM178 186h1v1h-1zM174 174h1v1h-1zM171 179h1v1h-1zM167 189h1v1h-1zM173 193h1v1h-1zM180 194h1v1h-1zM170 191h1v1h-1zM175 188h1v1h-1zM168 192h1v1h-1zM178 190h1v1h-1zM177 185h1v1h-1zM168 181h1v1h-1zM160 183h1v1h-1zM174 187h1v1h-1zM173 180h1v1h-1zM177 196h1v1h-1zM166 198h1v1h-1zM176 174h1v1h-1zM176 196h1v1h-1zM177 197h1v1h-1zM171 188h1v1h-1zM180 183h1v1h-1zM181 185h1v1h-1zM189 186h1v1h-1zM185 183h1v1h-1zM175 181h1v1h-1zM174 186h1v1h-1zM175 179h1v1h-1zM182 186h1v1h-1zM163 185h1v1h-1zM184 189h1v1h-1zM174 189h1v1h-1zM184 190h1v1h-1zM179 172h1v1h-1zM162 184h1v1h-1zM172 181h1v1h-1zM168 182h1v1h-1zM160 188h1v1h-1zM170 198h1v1h-1zM166 191h1v1h-1zM183 178h1v1h-1zM177 190h1v1h-1zM178 178h1v1h-1zM166 188h1v1h-1zM178 181h1v1h-1zM172 187h1v1h-1zM173 183h1v1h-1zM163 190h1v1h-1zM167 185h1v1h-1zM161 185h1v1h-1zM169 179h1v1h-1zM169 182h1v1h-1zM173 201h1v1h-1zM172 193h1v1h-1zM177 192h1v1h-1zM161 189h1v1h-1zM175 176h1v1h-1zM171 189h1v1h-1zM161 182h1v1h-1zM163 180h1v1h-1zM172 180h1v1h-1zM163 191h1v1h-1zM183 181h1v1h-1zM178 182h1v1h-1zM189 178h1v1h-1zM183 200h1v1h-1zM170 192h1v1h-1zM180 193h1v1h-1zM166 190h1v1h-1zM170 183h1v1h-1zM178 187h1v1h-1zM181 194h1v1h-1zM179 199h1v1h-1zM173 186h1v1h-1zM173 189h1v1h-1zM177 176h1v1h-1zM182 192h1v1h-1zM181 179h1v1h-1zM173 181h1v1h-1zM179 187h1v1h-1zM163 193h1v1h-1zM171 171h1v1h-1zM168 184h1v1h-1zM177 181h1v1h-1zM169 180h1v1h-1zM181 188h1v1h-1zM161 191h1v1h-1zM183 190h1v1h-1zM177 183h1v1h-1zM163 177h1v1h-1zM179 185h1v1h-1zM182 187h1v1h-1zM172 177h1v1h-1zM180 198h1v1h-1zM177 187h1v1h-1zM184 188h1v1h-1zM181 189h1v1h-1zM181 187h1v1h-1zM163 196h1v1h-1zM175 195h1v1h-1zM180 192h1v1h-1zM165 193h1v1h-1zM168 180h1v1h-1zM161 187h1v1h-1zM174 188h1v1h-1zM191 181h1v1h-1zM173 190h1v1h-1zM178 185h1v1h-1zM180 191h1v1h-1zM171 184h1v1h-1zM171 194h1v1h-1zM162 187h1v1h-1zM183 197h1v1h-1zM161 178h1v1h-1zM179 181h1v1h-1zM174 190h1v1h-1zM183 183h1v1h-1zM172 196h1v1h-1zM162 182h1v1h-1zM171 181h1v1h-1zM169 191h1v1h-1zM162 185h1v1h-1zM161 184h1v1h-1zM170 194h1v1h-1zM187 189h1v1h-1zM171 180h1v1h-1zM165 176h1v1h-1zM182 180h1v1h-1zM176 182h1v1h-1zM165 195h1v1h-1zM184 180h1v1h-1zM167 190h1v1h-1zM168 173h1v1h-1zM159 187h1v1h-1zM178 189h1v1h-1zM183 184h1v1h-1zM160 187h1v1h-1zM179 186h1v1h-1zM182 195h1v1h-1zM220 194h1v1h-1zM203 192h1v1h-1zM210 190h1v1h-1zM200 192h1v1h-1zM194 195h1v1h-1zM214 191h1v1h-1zM208 197h1v1h-1zM222 181h1v1h-1zM206 190h1v1h-1zM179 195h1v1h-1zM216 186h1v1h-1zM204 197h1v1h-1zM199 185h1v1h-1zM188 176h1v1h-1zM206 184h1v1h-1zM192 192h1v1h-1zM207 182h1v1h-1zM213 186h1v1h-1zM203 183h1v1h-1zM187 207h1v1h-1zM209 190h1v1h-1zM199 179h1v1h-1zM182 185h1v1h-1zM217 188h1v1h-1zM198 196h1v1h-1zM200 184h1v1h-1zM204 189h1v1h-1zM214 188h1v1h-1zM210 188h1v1h-1zM209 187h1v1h-1zM190 185h1v1h-1zM192 197h1v1h-1zM226 189h1v1h-1zM218 177h1v1h-1zM177 194h1v1h-1zM180 178h1v1h-1zM204 191h1v1h-1zM189 177h1v1h-1zM198 200h1v1h-1zM205 202h1v1h-1zM217 196h1v1h-1zM212 184h1v1h-1zM209 192h1v1h-1zM164 193h1v1h-1zM183 191h1v1h-1zM198 175h1v1h-1zM195 176h1v1h-1zM185 193h1v1h-1zM188 184h1v1h-1zM190 190h1v1h-1zM205 178h1v1h-1zM215 185h1v1h-1zM197 176h1v1h-1zM216 189h1v1h-1zM205 189h1v1h-1zM222 192h1v1h-1zM205 185h1v1h-1zM202 187h1v1h-1zM205 186h1v1h-1zM208 183h1v1h-1zM216 188h1v1h-1zM205 191h1v1h-1zM211 194h1v1h-1zM197 191h1v1h-1zM200 190h1v1h-1zM192 181h1v1h-1zM221 182h1v1h-1zM216 192h1v1h-1zM224 184h1v1h-1zM194 193h1v1h-1zM199 182h1v1h-1zM244 197h1v1h-1zM221 181h1v1h-1zM215 186h1v1h-1zM208 188h1v1h-1zM196 194h1v1h-1zM197 187h1v1h-1zM188 187h1v1h-1zM193 183h1v1h-1zM189 183h1v1h-1zM196 184h1v1h-1zM187 194h1v1h-1zM214 182h1v1h-1zM220 195h1v1h-1zM196 187h1v1h-1zM213 193h1v1h-1zM236 181h1v1h-1zM183 195h1v1h-1zM210 170h1v1h-1zM215 190h1v1h-1zM194 187h1v1h-1zM203 187h1v1h-1zM197 180h1v1h-1zM211 191h1v1h-1zM237 193h1v1h-1zM240 192h1v1h-1zM220 196h1v1h-1zM197 199h1v1h-1zM211 187h1v1h-1zM202 190h1v1h-1zM211 179h1v1h-1zM211 190h1v1h-1zM185 180h1v1h-1zM213 198h1v1h-1zM191 182h1v1h-1zM197 192h1v1h-1zM216 194h1v1h-1zM195 185h1v1h-1zM208 186h1v1h-1zM208 194h1v1h-1zM204 186h1v1h-1zM182 178h1v1h-1zM211 182h1v1h-1zM206 186h1v1h-1zM241 191h1v1h-1zM221 184h1v1h-1zM195 189h1v1h-1zM198 184h1v1h-1zM232 181h1v1h-1zM200 196h1v1h-1zM205 184h1v1h-1zM199 191h1v1h-1zM195 178h1v1h-1zM199 188h1v1h-1zM235 188h1v1h-1zM235 189h1v1h-1zM209 188h1v1h-1zM218 197h1v1h-1zM230 197h1v1h-1zM189 191h1v1h-1zM209 189h1v1h-1zM200 191h1v1h-1zM197 183h1v1h-1zM198 187h1v1h-1zM205 183h1v1h-1zM223 186h1v1h-1zM216 201h1v1h-1zM208 184h1v1h-1zM224 178h1v1h-1zM163 186h1v1h-1zM204 188h1v1h-1zM209 194h1v1h-1zM227 194h1v1h-1zM206 198h1v1h-1zM227 186h1v1h-1zM200 182h1v1h-1zM215 189h1v1h-1zM205 188h1v1h-1zM212 177h1v1h-1zM213 185h1v1h-1zM188 189h1v1h-1zM219 189h1v1h-1zM199 186h1v1h-1zM205 180h1v1h-1zM203 193h1v1h-1zM171 185h1v1h-1zM218 188h1v1h-1zM190 196h1v1h-1zM196 188h1v1h-1zM200 189h1v1h-1zM181 190h1v1h-1zM200 177h1v1h-1zM218 183h1v1h-1zM225 182h1v1h-1zM228 190h1v1h-1zM199 187h1v1h-1zM187 191h1v1h-1zM211 192h1v1h-1zM230 182h1v1h-1zM188 174h1v1h-1zM226 183h1v1h-1zM201 185h1v1h-1zM158 184h1v1h-1zM204 182h1v1h-1zM215 188h1v1h-1zM221 183h1v1h-1zM210 177h1v1h-1zM163 198h1v1h-1zM185 182h1v1h-1zM197 186h1v1h-1zM186 192h1v1h-1zM189 192h1v1h-1zM216 207h1v1h-1zM228 192h1v1h-1zM185 184h1v1h-1zM201 188h1v1h-1zM200 193h1v1h-1zM215 184h1v1h-1zM209 186h1v1h-1zM208 199h1v1h-1zM212 185h1v1h-1zM208 193h1v1h-1zM193 195h1v1h-1zM206 195h1v1h-1zM216 184h1v1h-1zM200 180h1v1h-1zM247 183h1v1h-1zM163 194h1v1h-1zM229 188h1v1h-1zM191 189h1v1h-1zM184 175h1v1h-1zM202 193h1v1h-1zM225 195h1v1h-1zM236 193h1v1h-1zM196 181h1v1h-1zM207 191h1v1h-1zM207 183h1v1h-1zM192 190h1v1h-1zM194 181h1v1h-1zM201 197h1v1h-1zM211 193h1v1h-1zM209 178h1v1h-1zM227 196h1v1h-1zM196 192h1v1h-1zM205 177h1v1h-1zM193 187h1v1h-1zM192 195h1v1h-1zM192 193h1v1h-1zM192 179h1v1h-1zM190 181h1v1h-1zM219 183h1v1h-1zM208 182h1v1h-1zM202 182h1v1h-1zM214 190h1v1h-1zM199 180h1v1h-1zM201 177h1v1h-1zM220 180h1v1h-1zM191 176h1v1h-1zM205 187h1v1h-1zM212 195h1v1h-1zM218 201h1v1h-1zM226 190h1v1h-1zM219 185h1v1h-1zM200 188h1v1h-1zM196 186h1v1h-1zM223 187h1v1h-1zM188 180h1v1h-1zM185 189h1v1h-1zM216 190h1v1h-1zM209 179h1v1h-1zM216 182h1v1h-1zM220 189h1v1h-1zM212 187h1v1h-1zM210 192h1v1h-1zM204 183h1v1h-1zM190 186h1v1h-1zM167 175h1v1h-1zM170 203h1v1h-1zM209 195h1v1h-1zM217 190h1v1h-1zM204 184h1v1h-1zM190 189h1v1h-1zM214 192h1v1h-1zM203 184h1v1h-1zM203 190h1v1h-1zM186 181h1v1h-1zM210 197h1v1h-1zM231 192h1v1h-1zM233 184h1v1h-1zM202 183h1v1h-1zM206 187h1v1h-1zM210 184h1v1h-1zM219 182h1v1h-1zM233 181h1v1h-1zM201 186h1v1h-1zM187 185h1v1h-1zM243 181h1v1h-1zM188 197h1v1h-1zM203 197h1v1h-1zM191 194h1v1h-1zM223 182h1v1h-1zM176 193h1v1h-1zM230 198h1v1h-1zM239 185h1v1h-1zM218 187h1v1h-1zM223 181h1v1h-1zM241 185h1v1h-1zM208 179h1v1h-1zM197 190h1v1h-1zM228 178h1v1h-1zM181 184h1v1h-1zM198 190h1v1h-1zM202 186h1v1h-1zM205 174h1v1h-1zM222 195h1v1h-1zM201 191h1v1h-1zM201 187h1v1h-1zM211 176h1v1h-1zM220 188h1v1h-1zM214 183h1v1h-1zM213 194h1v1h-1zM192 188h1v1h-1zM225 189h1v1h-1zM198 183h1v1h-1zM198 179h1v1h-1zM194 190h1v1h-1zM201 193h1v1h-1zM223 196h1v1h-1zM203 186h1v1h-1zM221 189h1v1h-1zM217 194h1v1h-1zM217 181h1v1h-1zM193 182h1v1h-1zM214 181h1v1h-1zM212 180h1v1h-1zM193 194h1v1h-1zM197 189h1v1h-1zM223 189h1v1h-1zM199 189h1v1h-1zM202 189h1v1h-1zM208 202h1v1h-1zM233 186h1v1h-1zM210 180h1v1h-1zM194 182h1v1h-1zM223 191h1v1h-1zM191 193h1v1h-1zM182 190h1v1h-1zM208 185h1v1h-1zM192 184h1v1h-1zM208 190h1v1h-1zM211 188h1v1h-1zM209 177h1v1h-1zM202 185h1v1h-1zM202 181h1v1h-1zM203 189h1v1h-1zM186 188h1v1h-1zM221 177h1v1h-1zM222 187h1v1h-1zM198 185h1v1h-1zM235 193h1v1h-1zM212 182h1v1h-1zM207 192h1v1h-1zM220 185h1v1h-1zM188 183h1v1h-1zM211 186h1v1h-1zM202 179h1v1h-1zM229 189h1v1h-1zM210 189h1v1h-1zM218 193h1v1h-1zM203 182h1v1h-1zM203 188h1v1h-1zM212 199h1v1h-1zM211 184h1v1h-1zM213 192h1v1h-1zM239 188h1v1h-1zM204 187h1v1h-1zM224 185h1v1h-1zM228 187h1v1h-1zM206 194h1v1h-1zM220 204h1v1h-1zM168 193h1v1h-1zM211 178h1v1h-1zM241 189h1v1h-1zM207 194h1v1h-1zM234 178h1v1h-1zM200 183h1v1h-1zM194 176h1v1h-1zM205 193h1v1h-1zM171 192h1v1h-1zM229 182h1v1h-1zM194 179h1v1h-1zM201 198h1v1h-1zM215 196h1v1h-1zM181 175h1v1h-1zM219 192h1v1h-1zM188 188h1v1h-1zM202 177h1v1h-1zM195 188h1v1h-1zM191 197h1v1h-1zM223 177h1v1h-1zM187 196h1v1h-1zM244 191h1v1h-1zM231 189h1v1h-1zM207 190h1v1h-1zM209 193h1v1h-1zM222 188h1v1h-1zM232 200h1v1h-1zM208 192h1v1h-1zM217 184h1v1h-1zM207 177h1v1h-1zM206 182h1v1h-1zM228 201h1v1h-1zM214 199h1v1h-1zM209 184h1v1h-1zM189 187h1v1h-1zM192 175h1v1h-1zM204 194h1v1h-1zM207 186h1v1h-1zM210 200h1v1h-1zM210 194h1v1h-1zM219 178h1v1h-1zM237 184h1v1h-1zM223 188h1v1h-1zM197 182h1v1h-1zM189 185h1v1h-1zM227 189h1v1h-1zM207 180h1v1h-1zM244 189h1v1h-1zM193 199h1v1h-1zM209 172h1v1h-1zM176 201h1v1h-1zM205 181h1v1h-1zM192 191h1v1h-1zM217 183h1v1h-1zM210 185h1v1h-1zM222 183h1v1h-1zM201 204h1v1h-1zM193 208h1v1h-1zM219 207h1v1h-1zM188 200h1v1h-1zM185 200h1v1h-1zM215 197h1v1h-1zM186 208h1v1h-1zM184 197h1v1h-1zM215 209h1v1h-1zM205 206h1v1h-1zM197 208h1v1h-1zM198 197h1v1h-1zM206 197h1v1h-1zM210 212h1v1h-1zM186 204h1v1h-1zM207 212h1v1h-1zM165 204h1v1h-1zM199 201h1v1h-1zM182 196h1v1h-1zM211 206h1v1h-1zM191 203h1v1h-1zM239 205h1v1h-1zM201 212h1v1h-1zM158 202h1v1h-1zM174 195h1v1h-1zM216 199h1v1h-1zM186 213h1v1h-1zM218 209h1v1h-1zM186 200h1v1h-1zM209 199h1v1h-1zM184 200h1v1h-1zM206 205h1v1h-1zM210 199h1v1h-1zM214 211h1v1h-1zM185 206h1v1h-1zM175 212h1v1h-1zM208 198h1v1h-1zM202 202h1v1h-1zM177 206h1v1h-1zM195 210h1v1h-1zM179 204h1v1h-1zM190 204h1v1h-1zM215 199h1v1h-1zM201 208h1v1h-1zM200 199h1v1h-1zM220 200h1v1h-1zM159 210h1v1h-1zM178 202h1v1h-1zM187 205h1v1h-1zM180 204h1v1h-1zM160 201h1v1h-1zM175 204h1v1h-1zM171 200h1v1h-1zM189 200h1v1h-1zM170 199h1v1h-1zM179 197h1v1h-1zM177 207h1v1h-1zM173 204h1v1h-1zM172 213h1v1h-1zM185 204h1v1h-1zM174 204h1v1h-1zM170 200h1v1h-1zM166 194h1v1h-1zM176 192h1v1h-1zM179 200h1v1h-1zM162 200h1v1h-1zM175 206h1v1h-1zM171 209h1v1h-1zM163 213h1v1h-1zM181 212h1v1h-1zM173 207h1v1h-1zM176 200h1v1h-1zM184 195h1v1h-1zM179 205h1v1h-1zM172 206h1v1h-1zM174 206h1v1h-1zM175 201h1v1h-1zM184 208h1v1h-1zM167 202h1v1h-1zM178 207h1v1h-1zM174 209h1v1h-1zM159 208h1v1h-1zM176 202h1v1h-1zM165 207h1v1h-1zM161 203h1v1h-1zM182 209h1v1h-1zM188 207h1v1h-1zM176 206h1v1h-1zM180 205h1v1h-1zM170 201h1v1h-1zM171 202h1v1h-1zM182 205h1v1h-1zM166 197h1v1h-1zM184 209h1v1h-1zM185 198h1v1h-1zM185 194h1v1h-1zM180 202h1v1h-1zM169 205h1v1h-1zM167 209h1v1h-1zM184 206h1v1h-1zM179 201h1v1h-1zM180 200h1v1h-1zM180 208h1v1h-1zM163 204h1v1h-1zM173 205h1v1h-1zM172 208h1v1h-1zM168 211h1v1h-1zM163 207h1v1h-1zM180 206h1v1h-1zM186 207h1v1h-1zM185 210h1v1h-1zM177 211h1v1h-1zM172 209h1v1h-1zM169 208h1v1h-1zM183 201h1v1h-1zM180 199h1v1h-1zM170 211h1v1h-1zM181 196h1v1h-1zM174 202h1v1h-1zM169 212h1v1h-1zM180 196h1v1h-1zM181 207h1v1h-1zM184 199h1v1h-1zM169 201h1v1h-1zM171 199h1v1h-1zM164 211h1v1h-1zM175 202h1v1h-1zM165 203h1v1h-1zM167 207h1v1h-1zM183 209h1v1h-1zM181 208h1v1h-1zM173 202h1v1h-1zM165 210h1v1h-1zM166 207h1v1h-1zM167 206h1v1h-1zM172 197h1v1h-1zM176 205h1v1h-1zM166 205h1v1h-1zM178 205h1v1h-1zM177 200h1v1h-1zM178 199h1v1h-1zM177 205h1v1h-1zM163 206h1v1h-1zM166 203h1v1h-1zM165 206h1v1h-1z" fill="#000" opacity="0.85"/>
<rect x="157.50" y="148.50" width="91.00" height="66.00" fill="none" stroke="#222" stroke-width="1"/>
<line x1="157.10" y1="148.50" x2="157.10" y2="214.50" stroke="#111" stroke-width="1.8" />
<line x1="157.50" y1="214.80" x2="248.50" y2="214.80" stroke="#111" stroke-width="1.6" />
<line x1="154.70" y1="198.00" x2="157.50" y2="198.00" stroke="#222" stroke-width="0.9" />
<line x1="154.70" y1="181.50" x2="157.50" y2="181.50" stroke="#222" stroke-width="0.9" />
<line x1="154.70" y1="165.00" x2="157.50" y2="165.00" stroke="#222" stroke-width="0.9" />
<line x1="154.70" y1="148.50" x2="157.50" y2="148.50" stroke="#222" stroke-width="0.9" />
<line x1="180.25" y1="214.50" x2="180.25" y2="217.10" stroke="#222" stroke-width="0.9" />
<line x1="203.00" y1="214.50" x2="203.00" y2="217.10" stroke="#222" stroke-width="0.9" />
<line x1="225.75" y1="214.50" x2="225.75" y2="217.10" stroke="#222" stroke-width="0.9" />
<line x1="248.50" y1="214.50" x2="248.50" y2="217.10" stroke="#222" stroke-width="0.9" />
<path d="M155.60 209.53H157.50M164.35 214.50V216.30M155.60 206.63H157.50M168.35 214.50V216.30M155.60 204.57H157.50M171.20 214.50V216.30M155.60 202.97H157.50M173.40 214.50V216.30M155.60 201.66H157.50M175.20 214.50V216.30M155.60 200.56H157.50M176.73 214.50V216.30M155.60 199.60H157.50M178.05 214.50V216.30M155.60 198.75H157.50M179.21 214.50V216.30M155.60 193.03H157.50M187.10 214.50V216.30M155.60 190.13H157.50M191.10 214.50V216.30M155.60 188.07H157.50M193.95 214.50V216.30M155.60 186.47H157.50M196.15 214.50V216.30M155.60 185.16H157.50M197.95 214.50V216.30M155.60 184.06H157.50M199.48 214.50V216.30M155.60 183.10H157.50M200.80 214.50V216.30M155.60 182.25H157.50M201.96 214.50V216.30M155.60 176.53H157.50M209.85 214.50V216.30M155.60 173.63H157.50M213.85 214.50V216.30M155.60 171.57H157.50M216.70 214.50V216.30M155.60 169.97H157.50M218.90 214.50V216.30M155.60 168.66H157.50M220.70 214.50V216.30M155.60 167.56H157.50M222.23 214.50V216.30M155.60 166.60H157.50M223.55 214.50V216.30M155.60 165.75H157.50M224.71 214.50V216.30M155.60 160.03H157.50M232.60 214.50V216.30M155.60 157.13H157.50M236.60 214.50V216.30M155.60 155.07H157.50M239.45 214.50V216.30M155.60 153.47H157.50M241.65 214.50V216.30M155.60 152.16H157.50M243.45 214.50V216.30M155.60 151.06H157.50M244.98 214.50V216.30M155.60 150.10H157.50M246.30 214.50V216.30M155.60 149.25H157.50M247.46 214.50V216.30" stroke="#333" stroke-width="0.5" fill="none"/>
<line x1="184.50" y1="148.50" x2="184.50" y2="214.50" stroke="#222" stroke-width="1" />
<line x1="157.50" y1="198.50" x2="248.50" y2="198.50" stroke="#222" stroke-width="1" />
<rect x="151.5" y="206.2" width="12.3" height="11" fill="#fff"/>
<text x="135.9" y="219.4" font-size="6.8" font-weight="normal" text-anchor="start" fill="#000" stroke="#000" stroke-width="0.2">10</text>
<text x="145.2" y="215.5" font-size="4.6" font-weight="normal" text-anchor="start" fill="#111" >0</text>
<text x="135.9" y="202.9" font-size="6.8" font-weight="normal" text-anchor="start" fill="#000" stroke="#000" stroke-width="0.2">10</text>
<text x="145.2" y="199.0" font-size="4.6" font-weight="normal" text-anchor="start" fill="#111" >1</text>
<text x="135.9" y="186.4" font-size="6.8" font-weight="normal" text-anchor="start" fill="#000" stroke="#000" stroke-width="0.2">10</text>
<text x="145.2" y="182.5" font-size="4.6" font-weight="normal" text-anchor="start" fill="#111" >2</text>
<text x="135.9" y="169.9" font-size="6.8" font-weight="normal" text-anchor="start" fill="#000" stroke="#000" stroke-width="0.2">10</text>
<text x="145.2" y="166.0" font-size="4.6" font-weight="normal" text-anchor="start" fill="#111" >3</text>
<text x="135.9" y="153.4" font-size="6.8" font-weight="normal" text-anchor="start" fill="#000" stroke="#000" stroke-width="0.2">10</text>
<text x="145.2" y="149.5" font-size="4.6" font-weight="normal" text-anchor="start" fill="#111" >4</text>
<text x="146.9" y="231.1" font-size="6.8" font-weight="normal" text-anchor="start" fill="#000" stroke="#000" stroke-width="0.2">10</text>
<text x="154.9" y="226.5" font-size="4.6" font-weight="normal" text-anchor="start" fill="#111" >0</text>
<text x="169.7" y="231.1" font-size="6.8" font-weight="normal" text-anchor="start" fill="#000" stroke="#000" stroke-width="0.2">10</text>
<text x="177.7" y="226.5" font-size="4.6" font-weight="normal" text-anchor="start" fill="#111" >1</text>
<text x="192.4" y="231.1" font-size="6.8" font-weight="normal" text-anchor="start" fill="#000" stroke="#000" stroke-width="0.2">10</text>
<text x="200.4" y="226.5" font-size="4.6" font-weight="normal" text-anchor="start" fill="#111" >2</text>
<text x="215.2" y="231.1" font-size="6.8" font-weight="normal" text-anchor="start" fill="#000" stroke="#000" stroke-width="0.2">10</text>
<text x="223.2" y="226.5" font-size="4.6" font-weight="normal" text-anchor="start" fill="#111" >3</text>
<text x="237.9" y="231.1" font-size="6.8" font-weight="normal" text-anchor="start" fill="#000" stroke="#000" stroke-width="0.2">10</text>
<text x="245.9" y="226.5" font-size="4.6" font-weight="normal" text-anchor="start" fill="#111" >4</text>
<text x="167.9" y="163.6" font-size="10.3" font-weight="normal" text-anchor="start" fill="#000" >38</text>
<text x="229.8" y="164.8" font-size="10.3" font-weight="normal" text-anchor="start" fill="#000" >39</text>
<text x="234.7" y="210.3" font-size="10.3" font-weight="normal" text-anchor="start" fill="#000" >8</text>
<text x="153.8" y="216.1" font-size="10.3" font-weight="normal" text-anchor="start" fill="#000" >15</text>
<path d="M356 198h1v1h-1zM356 201h1v1h-1zM359 207h1v1h-1zM361 195h1v1h-1zM375 199h1v1h-1zM371 201h1v1h-1zM374 201h1v1h-1zM353 180h1v1h-1zM360 200h1v1h-1zM356 195h1v1h-1zM357 202h1v1h-1zM366 205h1v1h-1zM370 186h1v1h-1zM354 203h1v1h-1zM353 200h1v1h-1zM365 196h1v1h-1zM367 200h1v1h-1zM360 193h1v1h-1zM355 186h1v1h-1zM358 199h1v1h-1zM356 194h1v1h-1zM352 213h1v1h-1zM366 206h1v1h-1zM358 206h1v1h-1zM364 202h1v1h-1zM360 195h1v1h-1zM365 202h1v1h-1zM371 213h1v1h-1zM363 199h1v1h-1zM370 198h1v1h-1zM365 195h1v1h-1zM345 203h1v1h-1zM356 200h1v1h-1zM352 195h1v1h-1zM358 200h1v1h-1zM359 206h1v1h-1zM362 210h1v1h-1zM373 206h1v1h-1zM363 206h1v1h-1zM356 202h1v1h-1zM367 189h1v1h-1zM351 192h1v1h-1zM369 197h1v1h-1zM368 206h1v1h-1zM360 206h1v1h-1zM354 199h1v1h-1zM366 200h1v1h-1zM364 208h1v1h-1zM368 203h1v1h-1zM364 209h1v1h-1zM357 200h1v1h-1zM367 197h1v1h-1zM370 190h1v1h-1zM347 191h1v1h-1zM347 206h1v1h-1zM365 211h1v1h-1zM363 201h1v1h-1zM355 185h1v1h-1zM370 207h1v1h-1zM380 186h1v1h-1zM357 203h1v1h-1zM357 199h1v1h-1zM358 205h1v1h-1zM368 202h1v1h-1zM348 195h1v1h-1zM360 203h1v1h-1zM361 203h1v1h-1zM366 201h1v1h-1zM361 201h1v1h-1zM355 199h1v1h-1zM350 207h1v1h-1zM353 195h1v1h-1zM353 196h1v1h-1zM360 196h1v1h-1zM350 209h1v1h-1zM366 197h1v1h-1zM371 204h1v1h-1zM351 200h1v1h-1zM368 190h1v1h-1zM367 194h1v1h-1zM353 201h1v1h-1zM372 197h1v1h-1zM365 200h1v1h-1zM361 193h1v1h-1zM359 202h1v1h-1zM348 209h1v1h-1zM368 193h1v1h-1zM373 210h1v1h-1zM356 199h1v1h-1zM369 207h1v1h-1zM347 207h1v1h-1zM368 195h1v1h-1zM361 206h1v1h-1zM358 203h1v1h-1zM367 199h1v1h-1zM358 196h1v1h-1zM354 209h1v1h-1zM360 186h1v1h-1zM363 198h1v1h-1zM354 206h1v1h-1zM360 189h1v1h-1zM345 204h1v1h-1zM356 205h1v1h-1zM351 196h1v1h-1zM369 209h1v1h-1zM353 205h1v1h-1zM363 195h1v1h-1zM368 201h1v1h-1zM348 204h1v1h-1zM364 198h1v1h-1zM360 192h1v1h-1zM345 196h1v1h-1zM357 197h1v1h-1zM355 206h1v1h-1zM359 209h1v1h-1zM368 199h1v1h-1zM353 199h1v1h-1zM367 203h1v1h-1zM359 196h1v1h-1zM353 187h1v1h-1zM354 193h1v1h-1zM349 206h1v1h-1zM370 200h1v1h-1zM365 201h1v1h-1zM365 212h1v1h-1zM355 201h1v1h-1zM366 207h1v1h-1zM347 203h1v1h-1zM362 199h1v1h-1zM360 199h1v1h-1zM360 202h1v1h-1zM358 191h1v1h-1zM355 212h1v1h-1zM358 198h1v1h-1zM356 206h1v1h-1zM371 187h1v1h-1zM368 200h1v1h-1zM361 205h1v1h-1zM350 188h1v1h-1zM374 195h1v1h-1zM370 199h1v1h-1zM362 203h1v1h-1zM366 194h1v1h-1zM359 195h1v1h-1zM360 212h1v1h-1zM362 186h1v1h-1zM370 210h1v1h-1zM348 210h1v1h-1zM352 208h1v1h-1zM345 207h1v1h-1zM384 209h1v1h-1zM355 208h1v1h-1zM356 192h1v1h-1zM368 208h1v1h-1zM361 198h1v1h-1zM354 205h1v1h-1zM365 204h1v1h-1zM362 191h1v1h-1zM358 195h1v1h-1zM348 199h1v1h-1zM364 205h1v1h-1zM369 200h1v1h-1zM352 197h1v1h-1zM358 185h1v1h-1zM379 203h1v1h-1zM358 193h1v1h-1zM351 205h1v1h-1zM351 198h1v1h-1zM369 201h1v1h-1zM366 193h1v1h-1zM352 203h1v1h-1zM371 200h1v1h-1zM363 205h1v1h-1zM356 190h1v1h-1zM358 187h1v1h-1zM364 211h1v1h-1zM362 202h1v1h-1zM349 199h1v1h-1zM363 202h1v1h-1zM346 190h1v1h-1zM366 198h1v1h-1zM348 206h1v1h-1zM348 205h1v1h-1zM358 202h1v1h-1zM359 200h1v1h-1zM367 190h1v1h-1zM384 210h1v1h-1zM365 206h1v1h-1zM352 201h1v1h-1zM354 207h1v1h-1zM350 195h1v1h-1zM362 204h1v1h-1zM369 195h1v1h-1zM360 201h1v1h-1zM359 210h1v1h-1zM363 196h1v1h-1zM347 194h1v1h-1zM370 192h1v1h-1zM366 196h1v1h-1zM350 198h1v1h-1zM364 204h1v1h-1zM367 207h1v1h-1zM368 192h1v1h-1zM373 192h1v1h-1zM361 194h1v1h-1zM367 195h1v1h-1zM350 201h1v1h-1zM366 189h1v1h-1zM348 211h1v1h-1zM354 197h1v1h-1zM347 212h1v1h-1zM348 202h1v1h-1zM362 205h1v1h-1zM360 209h1v1h-1zM366 208h1v1h-1zM347 197h1v1h-1zM367 213h1v1h-1zM368 205h1v1h-1zM358 197h1v1h-1zM350 197h1v1h-1zM360 190h1v1h-1zM360 207h1v1h-1zM356 212h1v1h-1zM369 191h1v1h-1zM355 203h1v1h-1zM378 206h1v1h-1zM360 204h1v1h-1zM353 192h1v1h-1zM362 206h1v1h-1zM351 191h1v1h-1zM361 190h1v1h-1zM368 188h1v1h-1zM357 190h1v1h-1zM359 201h1v1h-1zM369 194h1v1h-1zM368 198h1v1h-1zM358 201h1v1h-1zM386 198h1v1h-1zM357 207h1v1h-1zM352 199h1v1h-1zM354 201h1v1h-1zM345 193h1v1h-1zM362 197h1v1h-1zM358 207h1v1h-1zM349 191h1v1h-1zM367 210h1v1h-1zM361 207h1v1h-1zM356 204h1v1h-1zM359 198h1v1h-1zM357 204h1v1h-1zM363 210h1v1h-1zM365 197h1v1h-1zM374 202h1v1h-1zM366 202h1v1h-1zM359 192h1v1h-1zM369 196h1v1h-1zM363 200h1v1h-1zM368 196h1v1h-1zM359 208h1v1h-1zM350 203h1v1h-1zM385 196h1v1h-1zM370 196h1v1h-1zM393 184h1v1h-1zM382 188h1v1h-1zM391 186h1v1h-1zM402 185h1v1h-1zM395 184h1v1h-1zM388 192h1v1h-1zM390 191h1v1h-1zM387 200h1v1h-1zM406 188h1v1h-1zM361 200h1v1h-1zM379 182h1v1h-1zM375 202h1v1h-1zM390 188h1v1h-1zM383 194h1v1h-1zM386 191h1v1h-1zM409 178h1v1h-1zM389 191h1v1h-1zM396 195h1v1h-1zM380 192h1v1h-1zM377 187h1v1h-1zM373 193h1v1h-1zM403 182h1v1h-1zM371 205h1v1h-1zM379 187h1v1h-1zM414 187h1v1h-1zM390 199h1v1h-1zM386 189h1v1h-1zM382 202h1v1h-1zM371 193h1v1h-1zM390 179h1v1h-1zM398 192h1v1h-1zM379 185h1v1h-1zM406 181h1v1h-1zM381 187h1v1h-1zM395 202h1v1h-1zM414 190h1v1h-1zM375 181h1v1h-1zM384 197h1v1h-1zM374 198h1v1h-1zM357 198h1v1h-1zM393 191h1v1h-1zM382 211h1v1h-1zM378 202h1v1h-1zM377 185h1v1h-1zM376 202h1v1h-1zM373 194h1v1h-1zM398 176h1v1h-1zM375 182h1v1h-1zM372 188h1v1h-1zM387 194h1v1h-1zM391 187h1v1h-1zM406 192h1v1h-1zM389 180h1v1h-1zM374 184h1v1h-1zM397 206h1v1h-1zM377 198h1v1h-1zM391 193h1v1h-1zM408 188h1v1h-1zM367 205h1v1h-1zM383 198h1v1h-1zM385 178h1v1h-1zM396 191h1v1h-1zM393 194h1v1h-1zM364 195h1v1h-1zM382 199h1v1h-1zM391 211h1v1h-1zM407 188h1v1h-1zM377 199h1v1h-1zM394 189h1v1h-1zM398 186h1v1h-1zM386 199h1v1h-1zM405 184h1v1h-1zM371 188h1v1h-1zM407 181h1v1h-1zM379 195h1v1h-1zM376 199h1v1h-1zM396 198h1v1h-1zM393 188h1v1h-1zM390 190h1v1h-1zM368 185h1v1h-1zM383 189h1v1h-1zM360 185h1v1h-1zM366 183h1v1h-1zM392 187h1v1h-1zM382 194h1v1h-1zM362 190h1v1h-1zM373 195h1v1h-1zM380 185h1v1h-1zM405 188h1v1h-1zM377 193h1v1h-1zM366 190h1v1h-1zM370 191h1v1h-1zM374 192h1v1h-1zM378 191h1v1h-1zM410 185h1v1h-1zM377 186h1v1h-1zM398 166h1v1h-1zM375 192h1v1h-1zM375 200h1v1h-1zM378 204h1v1h-1zM389 196h1v1h-1zM387 188h1v1h-1zM381 184h1v1h-1zM386 193h1v1h-1zM371 202h1v1h-1zM371 197h1v1h-1zM377 197h1v1h-1zM379 194h1v1h-1zM400 200h1v1h-1zM400 186h1v1h-1zM405 187h1v1h-1zM399 188h1v1h-1zM396 194h1v1h-1zM407 186h1v1h-1zM381 205h1v1h-1zM381 185h1v1h-1zM390 186h1v1h-1zM383 181h1v1h-1zM381 201h1v1h-1zM384 198h1v1h-1zM375 201h1v1h-1zM414 183h1v1h-1zM392 196h1v1h-1zM396 176h1v1h-1zM375 196h1v1h-1zM382 189h1v1h-1zM385 184h1v1h-1zM396 178h1v1h-1zM385 201h1v1h-1zM389 187h1v1h-1zM383 186h1v1h-1zM415 175h1v1h-1zM374 197h1v1h-1zM385 191h1v1h-1zM387 195h1v1h-1zM391 190h1v1h-1zM370 197h1v1h-1zM376 198h1v1h-1zM376 201h1v1h-1zM373 198h1v1h-1zM382 193h1v1h-1zM376 186h1v1h-1zM376 196h1v1h-1zM381 207h1v1h-1zM369 180h1v1h-1zM402 178h1v1h-1zM393 185h1v1h-1zM380 189h1v1h-1zM389 190h1v1h-1zM373 182h1v1h-1zM366 191h1v1h-1zM384 186h1v1h-1zM387 174h1v1h-1zM380 193h1v1h-1zM394 177h1v1h-1zM375 191h1v1h-1zM387 198h1v1h-1zM392 197h1v1h-1zM392 181h1v1h-1zM385 199h1v1h-1zM406 187h1v1h-1zM395 176h1v1h-1zM393 195h1v1h-1zM376 189h1v1h-1zM386 177h1v1h-1zM378 182h1v1h-1zM411 178h1v1h-1zM390 195h1v1h-1zM375 180h1v1h-1zM396 184h1v1h-1zM399 187h1v1h-1zM378 201h1v1h-1zM387 206h1v1h-1zM417 179h1v1h-1zM386 194h1v1h-1zM390 202h1v1h-1zM425 174h1v1h-1zM385 189h1v1h-1zM373 197h1v1h-1zM387 186h1v1h-1zM374 200h1v1h-1zM359 191h1v1h-1zM392 190h1v1h-1zM379 193h1v1h-1zM374 194h1v1h-1zM399 179h1v1h-1zM383 187h1v1h-1zM368 211h1v1h-1zM372 203h1v1h-1zM378 199h1v1h-1zM400 191h1v1h-1zM398 204h1v1h-1zM398 179h1v1h-1zM387 183h1v1h-1zM390 194h1v1h-1zM395 186h1v1h-1zM388 187h1v1h-1zM388 182h1v1h-1zM371 199h1v1h-1zM379 192h1v1h-1zM365 193h1v1h-1zM379 196h1v1h-1zM382 192h1v1h-1zM377 183h1v1h-1zM400 201h1v1h-1zM389 194h1v1h-1zM388 198h1v1h-1zM383 193h1v1h-1zM392 186h1v1h-1zM390 184h1v1h-1zM380 198h1v1h-1zM402 182h1v1h-1zM393 187h1v1h-1zM372 189h1v1h-1zM373 191h1v1h-1zM387 185h1v1h-1zM415 190h1v1h-1zM369 186h1v1h-1zM386 197h1v1h-1zM383 182h1v1h-1zM393 181h1v1h-1zM385 193h1v1h-1zM378 196h1v1h-1zM379 183h1v1h-1zM391 194h1v1h-1zM388 184h1v1h-1zM388 195h1v1h-1zM384 194h1v1h-1zM371 198h1v1h-1zM376 190h1v1h-1zM377 190h1v1h-1zM394 181h1v1h-1zM384 201h1v1h-1zM381 193h1v1h-1zM377 182h1v1h-1zM400 176h1v1h-1zM395 178h1v1h-1zM394 175h1v1h-1zM373 199h1v1h-1zM369 187h1v1h-1zM400 190h1v1h-1zM402 207h1v1h-1zM395 183h1v1h-1zM376 200h1v1h-1zM374 196h1v1h-1zM374 185h1v1h-1zM366 188h1v1h-1zM370 206h1v1h-1zM369 189h1v1h-1zM409 167h1v1h-1zM391 192h1v1h-1zM392 195h1v1h-1zM345 212h1v1h-1zM392 182h1v1h-1zM403 184h1v1h-1zM396 181h1v1h-1zM389 184h1v1h-1zM394 184h1v1h-1zM377 201h1v1h-1zM409 199h1v1h-1zM382 190h1v1h-1zM409 186h1v1h-1zM387 182h1v1h-1zM389 186h1v1h-1zM400 188h1v1h-1zM413 177h1v1h-1zM386 185h1v1h-1zM367 188h1v1h-1zM385 198h1v1h-1zM407 174h1v1h-1zM375 195h1v1h-1zM385 187h1v1h-1zM391 184h1v1h-1zM402 191h1v1h-1zM375 190h1v1h-1zM396 189h1v1h-1zM378 189h1v1h-1zM371 196h1v1h-1zM367 198h1v1h-1zM381 190h1v1h-1zM362 209h1v1h-1zM373 200h1v1h-1zM390 182h1v1h-1zM397 192h1v1h-1zM398 198h1v1h-1zM363 194h1v1h-1zM403 195h1v1h-1zM390 187h1v1h-1zM389 185h1v1h-1zM410 188h1v1h-1zM402 183h1v1h-1zM380 194h1v1h-1zM380 191h1v1h-1zM386 186h1v1h-1zM401 181h1v1h-1zM380 195h1v1h-1zM388 173h1v1h-1zM401 194h1v1h-1zM388 190h1v1h-1zM398 203h1v1h-1zM379 207h1v1h-1zM393 199h1v1h-1zM392 185h1v1h-1zM385 183h1v1h-1zM373 190h1v1h-1zM381 195h1v1h-1zM378 193h1v1h-1zM363 193h1v1h-1zM393 176h1v1h-1zM406 194h1v1h-1zM421 172h1v1h-1zM395 180h1v1h-1zM391 179h1v1h-1zM377 191h1v1h-1zM380 179h1v1h-1zM398 188h1v1h-1zM386 195h1v1h-1zM364 187h1v1h-1zM396 192h1v1h-1zM385 194h1v1h-1zM379 190h1v1h-1zM395 194h1v1h-1zM403 189h1v1h-1zM375 189h1v1h-1zM404 192h1v1h-1zM405 185h1v1h-1zM395 188h1v1h-1zM373 188h1v1h-1zM413 182h1v1h-1zM364 192h1v1h-1zM387 187h1v1h-1zM401 193h1v1h-1zM354 196h1v1h-1zM379 206h1v1h-1zM349 205h1v1h-1zM390 189h1v1h-1zM373 187h1v1h-1zM391 183h1v1h-1zM364 193h1v1h-1zM380 181h1v1h-1zM409 194h1v1h-1zM385 197h1v1h-1zM366 185h1v1h-1zM414 182h1v1h-1zM384 192h1v1h-1zM395 193h1v1h-1zM372 195h1v1h-1zM377 196h1v1h-1zM366 199h1v1h-1zM371 203h1v1h-1zM396 187h1v1h-1zM380 190h1v1h-1zM401 188h1v1h-1zM379 204h1v1h-1zM365 194h1v1h-1zM372 199h1v1h-1zM412 179h1v1h-1zM378 174h1v1h-1zM403 178h1v1h-1zM376 183h1v1h-1zM394 186h1v1h-1zM377 200h1v1h-1zM398 189h1v1h-1zM402 186h1v1h-1zM388 196h1v1h-1zM408 178h1v1h-1zM388 189h1v1h-1zM385 195h1v1h-1zM369 213h1v1h-1zM399 180h1v1h-1zM368 187h1v1h-1zM383 204h1v1h-1zM389 188h1v1h-1zM364 206h1v1h-1zM395 190h1v1h-1zM379 208h1v1h-1zM399 196h1v1h-1zM389 204h1v1h-1zM389 205h1v1h-1zM385 202h1v1h-1zM416 208h1v1h-1zM397 204h1v1h-1zM374 207h1v1h-1zM380 208h1v1h-1zM367 209h1v1h-1zM361 202h1v1h-1zM369 199h1v1h-1zM388 208h1v1h-1zM389 203h1v1h-1zM358 211h1v1h-1zM373 212h1v1h-1zM376 205h1v1h-1zM391 200h1v1h-1zM382 210h1v1h-1zM385 200h1v1h-1zM394 206h1v1h-1zM379 210h1v1h-1zM400 207h1v1h-1zM373 207h1v1h-1zM386 210h1v1h-1zM397 207h1v1h-1zM393 200h1v1h-1zM395 200h1v1h-1zM385 210h1v1h-1zM374 208h1v1h-1zM385 203h1v1h-1zM390 205h1v1h-1zM376 203h1v1h-1zM377 204h1v1h-1zM366 210h1v1h-1zM378 211h1v1h-1zM391 206h1v1h-1zM373 201h1v1h-1zM388 205h1v1h-1zM376 206h1v1h-1zM389 202h1v1h-1zM381 199h1v1h-1zM384 199h1v1h-1zM387 196h1v1h-1zM394 202h1v1h-1zM372 208h1v1h-1zM389 199h1v1h-1zM383 211h1v1h-1zM383 201h1v1h-1zM381 210h1v1h-1zM377 208h1v1h-1zM382 208h1v1h-1zM390 200h1v1h-1zM399 202h1v1h-1zM371 206h1v1h-1zM404 202h1v1h-1zM369 204h1v1h-1zM381 208h1v1h-1zM382 201h1v1h-1zM395 207h1v1h-1zM401 203h1v1h-1zM375 204h1v1h-1zM368 204h1v1h-1zM375 198h1v1h-1zM375 207h1v1h-1zM372 211h1v1h-1zM379 202h1v1h-1zM403 203h1v1h-1zM401 198h1v1h-1zM395 212h1v1h-1zM378 209h1v1h-1zM384 206h1v1h-1zM394 205h1v1h-1zM375 211h1v1h-1zM382 204h1v1h-1zM365 210h1v1h-1zM392 205h1v1h-1zM396 204h1v1h-1zM391 209h1v1h-1zM379 201h1v1h-1zM386 212h1v1h-1zM407 207h1v1h-1zM371 208h1v1h-1zM390 206h1v1h-1zM398 205h1v1h-1zM406 207h1v1h-1zM381 203h1v1h-1zM387 201h1v1h-1zM393 205h1v1h-1zM391 207h1v1h-1zM375 212h1v1h-1zM356 211h1v1h-1zM396 208h1v1h-1zM373 209h1v1h-1zM389 211h1v1h-1zM390 203h1v1h-1zM384 211h1v1h-1zM376 204h1v1h-1zM362 208h1v1h-1zM398 210h1v1h-1zM370 203h1v1h-1zM375 203h1v1h-1zM375 208h1v1h-1zM379 209h1v1h-1zM387 203h1v1h-1zM396 209h1v1h-1zM400 209h1v1h-1zM391 204h1v1h-1zM390 204h1v1h-1zM378 205h1v1h-1zM392 210h1v1h-1zM370 211h1v1h-1zM391 201h1v1h-1zM393 207h1v1h-1zM411 201h1v1h-1zM398 208h1v1h-1zM380 206h1v1h-1zM387 209h1v1h-1zM385 207h1v1h-1zM398 201h1v1h-1zM357 212h1v1h-1zM381 204h1v1h-1zM381 212h1v1h-1zM376 207h1v1h-1zM390 208h1v1h-1zM389 201h1v1h-1z" fill="#000" opacity="0.85"/>
<rect x="343.50" y="148.50" width="91.00" height="66.00" fill="none" stroke="#222" stroke-width="1"/>
<line x1="343.10" y1="148.50" x2="343.10" y2="214.50" stroke="#111" stroke-width="1.8" />
<line x1="343.50" y1="214.80" x2="434.50" y2="214.80" stroke="#111" stroke-width="1.6" />
<line x1="340.70" y1="198.00" x2="343.50" y2="198.00" stroke="#222" stroke-width="0.9" />
<line x1="340.70" y1="181.50" x2="343.50" y2="181.50" stroke="#222" stroke-width="0.9" />
<line x1="340.70" y1="165.00" x2="343.50" y2="165.00" stroke="#222" stroke-width="0.9" />
<line x1="340.70" y1="148.50" x2="343.50" y2="148.50" stroke="#222" stroke-width="0.9" />
<line x1="366.25" y1="214.50" x2="366.25" y2="217.10" stroke="#222" stroke-width="0.9" />
<line x1="389.00" y1="214.50" x2="389.00" y2="217.10" stroke="#222" stroke-width="0.9" />
<line x1="411.75" y1="214.50" x2="411.75" y2="217.10" stroke="#222" stroke-width="0.9" />
<line x1="434.50" y1="214.50" x2="434.50" y2="217.10" stroke="#222" stroke-width="0.9" />
<path d="M341.60 209.53H343.50M350.35 214.50V216.30M341.60 206.63H343.50M354.35 214.50V216.30M341.60 204.57H343.50M357.20 214.50V216.30M341.60 202.97H343.50M359.40 214.50V216.30M341.60 201.66H343.50M361.20 214.50V216.30M341.60 200.56H343.50M362.73 214.50V216.30M341.60 199.60H343.50M364.05 214.50V216.30M341.60 198.75H343.50M365.21 214.50V216.30M341.60 193.03H343.50M373.10 214.50V216.30M341.60 190.13H343.50M377.10 214.50V216.30M341.60 188.07H343.50M379.95 214.50V216.30M341.60 186.47H343.50M382.15 214.50V216.30M341.60 185.16H343.50M383.95 214.50V216.30M341.60 184.06H343.50M385.48 214.50V216.30M341.60 183.10H343.50M386.80 214.50V216.30M341.60 182.25H343.50M387.96 214.50V216.30M341.60 176.53H343.50M395.85 214.50V216.30M341.60 173.63H343.50M399.85 214.50V216.30M341.60 171.57H343.50M402.70 214.50V216.30M341.60 169.97H343.50M404.90 214.50V216.30M341.60 168.66H343.50M406.70 214.50V216.30M341.60 167.56H343.50M408.23 214.50V216.30M341.60 166.60H343.50M409.55 214.50V216.30M341.60 165.75H343.50M410.71 214.50V216.30M341.60 160.03H343.50M418.60 214.50V216.30M341.60 157.13H343.50M422.60 214.50V216.30M341.60 155.07H343.50M425.45 214.50V216.30M341.60 153.47H343.50M427.65 214.50V216.30M341.60 152.16H343.50M429.45 214.50V216.30M341.60 151.06H343.50M430.98 214.50V216.30M341.60 150.10H343.50M432.30 214.50V216.30M341.60 149.25H343.50M433.46 214.50V216.30" stroke="#333" stroke-width="0.5" fill="none"/>
<line x1="369.50" y1="148.50" x2="369.50" y2="214.50" stroke="#222" stroke-width="1" />
<line x1="343.50" y1="198.50" x2="434.50" y2="198.50" stroke="#222" stroke-width="1" />
<rect x="337.5" y="206.2" width="12.3" height="11" fill="#fff"/>
<text x="321.9" y="219.4" font-size="6.8" font-weight="normal" text-anchor="start" fill="#000" stroke="#000" stroke-width="0.2">10</text>
<text x="331.2" y="215.5" font-size="4.6" font-weight="normal" text-anchor="start" fill="#111" >0</text>
<text x="321.9" y="202.9" font-size="6.8" font-weight="normal" text-anchor="start" fill="#000" stroke="#000" stroke-width="0.2">10</text>
<text x="331.2" y="199.0" font-size="4.6" font-weight="normal" text-anchor="start" fill="#111" >1</text>
<text x="321.9" y="186.4" font-size="6.8" font-weight="normal" text-anchor="start" fill="#000" stroke="#000" stroke-width="0.2">10</text>
<text x="331.2" y="182.5" font-size="4.6" font-weight="normal" text-anchor="start" fill="#111" >2</text>
<text x="321.9" y="169.9" font-size="6.8" font-weight="normal" text-anchor="start" fill="#000" stroke="#000" stroke-width="0.2">10</text>
<text x="331.2" y="166.0" font-size="4.6" font-weight="normal" text-anchor="start" fill="#111" >3</text>
<text x="321.9" y="153.4" font-size="6.8" font-weight="normal" text-anchor="start" fill="#000" stroke="#000" stroke-width="0.2">10</text>
<text x="331.2" y="149.5" font-size="4.6" font-weight="normal" text-anchor="start" fill="#111" >4</text>
<text x="332.9" y="231.1" font-size="6.8" font-weight="normal" text-anchor="start" fill="#000" stroke="#000" stroke-width="0.2">10</text>
<text x="340.9" y="226.5" font-size="4.6" font-weight="normal" text-anchor="start" fill="#111" >0</text>
<text x="355.6" y="231.1" font-size="6.8" font-weight="normal" text-anchor="start" fill="#000" stroke="#000" stroke-width="0.2">10</text>
<text x="363.6" y="226.5" font-size="4.6" font-weight="normal" text-anchor="start" fill="#111" >1</text>
<text x="378.4" y="231.1" font-size="6.8" font-weight="normal" text-anchor="start" fill="#000" stroke="#000" stroke-width="0.2">10</text>
<text x="386.4" y="226.5" font-size="4.6" font-weight="normal" text-anchor="start" fill="#111" >2</text>
<text x="401.1" y="231.1" font-size="6.8" font-weight="normal" text-anchor="start" fill="#000" stroke="#000" stroke-width="0.2">10</text>
<text x="409.1" y="226.5" font-size="4.6" font-weight="normal" text-anchor="start" fill="#111" >3</text>
<text x="423.9" y="231.1" font-size="6.8" font-weight="normal" text-anchor="start" fill="#000" stroke="#000" stroke-width="0.2">10</text>
<text x="431.9" y="226.5" font-size="4.6" font-weight="normal" text-anchor="start" fill="#111" >4</text>
<text x="353.0" y="165.8" font-size="10.3" font-weight="normal" text-anchor="start" fill="#000" >9</text>
<text x="415.0" y="166.2" font-size="10.3" font-weight="normal" text-anchor="start" fill="#000" >38</text>
<text x="417.0" y="209.6" font-size="10.3" font-weight="normal" text-anchor="start" fill="#000" >23</text>
<text x="340.0" y="216.2" font-size="10.3" font-weight="normal" text-anchor="start" fill="#000" >30</text>
<path d="M216 316h1v1h-1zM211 298h1v1h-1zM210 313h1v1h-1zM208 305h1v1h-1zM208 312h1v1h-1zM211 309h1v1h-1zM211 316h1v1h-1zM213 314h1v1h-1zM217 326h1v1h-1zM209 325h1v1h-1zM211 312h1v1h-1zM215 308h1v1h-1zM213 316h1v1h-1zM208 317h1v1h-1zM206 315h1v1h-1zM216 304h1v1h-1zM206 321h1v1h-1zM214 309h1v1h-1zM207 306h1v1h-1zM222 318h1v1h-1zM206 316h1v1h-1zM222 314h1v1h-1zM216 315h1v1h-1zM220 307h1v1h-1zM219 311h1v1h-1zM215 314h1v1h-1zM211 310h1v1h-1zM226 306h1v1h-1zM210 314h1v1h-1zM205 307h1v1h-1zM212 303h1v1h-1zM208 308h1v1h-1zM213 312h1v1h-1zM211 308h1v1h-1zM210 309h1v1h-1zM216 309h1v1h-1zM217 312h1v1h-1zM208 306h1v1h-1zM203 307h1v1h-1zM215 318h1v1h-1zM206 308h1v1h-1zM210 316h1v1h-1zM208 311h1v1h-1zM218 312h1v1h-1zM224 309h1v1h-1zM209 314h1v1h-1zM224 313h1v1h-1zM211 314h1v1h-1zM219 318h1v1h-1zM223 309h1v1h-1zM223 311h1v1h-1zM217 309h1v1h-1zM197 308h1v1h-1zM211 318h1v1h-1zM209 310h1v1h-1zM213 315h1v1h-1zM224 305h1v1h-1zM203 309h1v1h-1zM213 308h1v1h-1zM216 310h1v1h-1zM204 302h1v1h-1zM206 311h1v1h-1zM206 307h1v1h-1zM217 295h1v1h-1zM206 309h1v1h-1zM215 311h1v1h-1zM206 319h1v1h-1zM205 319h1v1h-1zM215 301h1v1h-1zM217 311h1v1h-1zM205 316h1v1h-1zM207 314h1v1h-1zM214 317h1v1h-1zM207 311h1v1h-1zM206 314h1v1h-1zM214 304h1v1h-1zM198 309h1v1h-1zM222 311h1v1h-1zM221 311h1v1h-1zM219 304h1v1h-1zM208 316h1v1h-1zM206 317h1v1h-1zM209 313h1v1h-1zM219 316h1v1h-1zM217 308h1v1h-1zM210 312h1v1h-1zM215 316h1v1h-1zM212 309h1v1h-1zM212 306h1v1h-1zM219 310h1v1h-1zM215 315h1v1h-1zM209 303h1v1h-1zM220 309h1v1h-1zM213 306h1v1h-1zM213 307h1v1h-1zM209 312h1v1h-1zM214 315h1v1h-1zM214 314h1v1h-1zM204 313h1v1h-1zM215 306h1v1h-1zM213 309h1v1h-1zM218 308h1v1h-1zM210 307h1v1h-1zM212 310h1v1h-1zM202 301h1v1h-1zM207 316h1v1h-1zM217 310h1v1h-1zM217 313h1v1h-1zM216 299h1v1h-1zM217 305h1v1h-1zM221 308h1v1h-1zM205 309h1v1h-1zM205 312h1v1h-1zM214 301h1v1h-1zM215 320h1v1h-1zM204 307h1v1h-1zM210 310h1v1h-1zM216 307h1v1h-1zM208 309h1v1h-1zM215 305h1v1h-1zM211 305h1v1h-1zM199 310h1v1h-1zM204 305h1v1h-1zM218 305h1v1h-1zM214 306h1v1h-1zM224 306h1v1h-1zM217 316h1v1h-1zM206 304h1v1h-1zM210 318h1v1h-1zM218 315h1v1h-1zM212 320h1v1h-1zM210 317h1v1h-1zM211 307h1v1h-1zM215 313h1v1h-1zM220 308h1v1h-1zM204 303h1v1h-1zM212 319h1v1h-1zM212 308h1v1h-1zM202 307h1v1h-1zM205 315h1v1h-1zM213 305h1v1h-1zM204 300h1v1h-1zM215 312h1v1h-1zM216 325h1v1h-1zM224 302h1v1h-1zM212 316h1v1h-1zM231 318h1v1h-1zM223 312h1v1h-1zM209 309h1v1h-1zM202 308h1v1h-1zM213 319h1v1h-1zM218 323h1v1h-1zM211 315h1v1h-1zM200 315h1v1h-1zM201 320h1v1h-1zM213 322h1v1h-1zM215 321h1v1h-1zM223 306h1v1h-1zM204 315h1v1h-1zM196 321h1v1h-1zM203 324h1v1h-1zM210 320h1v1h-1zM209 328h1v1h-1zM210 308h1v1h-1zM214 311h1v1h-1zM208 298h1v1h-1zM198 314h1v1h-1zM214 318h1v1h-1zM204 318h1v1h-1zM243 306h1v1h-1zM188 318h1v1h-1zM197 329h1v1h-1zM203 310h1v1h-1zM222 312h1v1h-1zM214 321h1v1h-1zM227 323h1v1h-1zM197 320h1v1h-1zM210 327h1v1h-1zM212 313h1v1h-1zM210 319h1v1h-1zM205 324h1v1h-1zM200 309h1v1h-1zM201 305h1v1h-1zM209 332h1v1h-1zM215 297h1v1h-1zM216 302h1v1h-1zM188 314h1v1h-1zM203 313h1v1h-1zM200 311h1v1h-1zM211 317h1v1h-1zM211 311h1v1h-1zM207 309h1v1h-1zM221 294h1v1h-1zM207 315h1v1h-1zM216 306h1v1h-1zM216 314h1v1h-1zM208 313h1v1h-1zM218 317h1v1h-1zM220 318h1v1h-1zM213 318h1v1h-1zM213 320h1v1h-1zM193 299h1v1h-1zM196 320h1v1h-1zM211 322h1v1h-1zM197 304h1v1h-1zM202 313h1v1h-1zM211 328h1v1h-1zM209 331h1v1h-1zM224 312h1v1h-1zM220 328h1v1h-1zM226 312h1v1h-1zM212 307h1v1h-1zM194 321h1v1h-1zM221 318h1v1h-1zM230 318h1v1h-1zM207 320h1v1h-1zM225 317h1v1h-1zM205 310h1v1h-1zM195 314h1v1h-1zM211 313h1v1h-1zM215 317h1v1h-1zM233 297h1v1h-1zM221 332h1v1h-1zM214 312h1v1h-1zM211 302h1v1h-1zM223 300h1v1h-1zM215 310h1v1h-1zM186 323h1v1h-1zM216 313h1v1h-1zM206 320h1v1h-1zM202 310h1v1h-1zM235 313h1v1h-1zM203 317h1v1h-1zM202 303h1v1h-1zM209 319h1v1h-1zM196 324h1v1h-1zM199 322h1v1h-1zM207 318h1v1h-1zM218 309h1v1h-1zM203 316h1v1h-1zM203 308h1v1h-1zM210 303h1v1h-1zM202 321h1v1h-1zM206 312h1v1h-1zM202 316h1v1h-1zM228 307h1v1h-1zM207 308h1v1h-1zM224 311h1v1h-1zM212 323h1v1h-1zM228 317h1v1h-1zM202 315h1v1h-1zM188 319h1v1h-1zM230 320h1v1h-1zM238 317h1v1h-1zM226 323h1v1h-1zM226 320h1v1h-1zM197 316h1v1h-1zM221 306h1v1h-1zM193 319h1v1h-1zM228 326h1v1h-1zM215 307h1v1h-1zM199 316h1v1h-1zM223 308h1v1h-1zM201 315h1v1h-1zM207 310h1v1h-1zM198 326h1v1h-1zM205 329h1v1h-1zM202 309h1v1h-1zM207 303h1v1h-1zM189 304h1v1h-1zM223 316h1v1h-1zM208 326h1v1h-1zM213 317h1v1h-1zM215 298h1v1h-1zM221 310h1v1h-1zM195 305h1v1h-1zM233 309h1v1h-1zM222 317h1v1h-1zM217 323h1v1h-1zM219 321h1v1h-1zM220 301h1v1h-1zM220 310h1v1h-1zM201 309h1v1h-1zM215 328h1v1h-1zM201 307h1v1h-1zM209 324h1v1h-1zM202 324h1v1h-1zM207 302h1v1h-1zM213 331h1v1h-1zM217 315h1v1h-1zM221 298h1v1h-1zM199 311h1v1h-1zM212 328h1v1h-1zM195 328h1v1h-1zM215 325h1v1h-1zM198 318h1v1h-1zM204 312h1v1h-1zM223 313h1v1h-1zM199 314h1v1h-1zM219 308h1v1h-1zM204 311h1v1h-1zM216 320h1v1h-1zM211 304h1v1h-1zM209 307h1v1h-1zM201 330h1v1h-1zM193 315h1v1h-1zM208 310h1v1h-1zM226 303h1v1h-1zM197 302h1v1h-1zM226 330h1v1h-1zM207 329h1v1h-1zM198 320h1v1h-1zM223 318h1v1h-1zM192 318h1v1h-1zM224 319h1v1h-1zM212 317h1v1h-1zM209 301h1v1h-1zM220 320h1v1h-1zM211 306h1v1h-1zM225 323h1v1h-1zM207 317h1v1h-1zM214 305h1v1h-1zM212 299h1v1h-1zM216 311h1v1h-1zM225 313h1v1h-1zM225 305h1v1h-1zM227 320h1v1h-1zM220 316h1v1h-1zM205 314h1v1h-1zM213 301h1v1h-1zM226 307h1v1h-1zM205 331h1v1h-1zM209 305h1v1h-1zM192 315h1v1h-1zM221 302h1v1h-1zM198 313h1v1h-1zM234 322h1v1h-1zM217 306h1v1h-1zM193 313h1v1h-1zM206 313h1v1h-1zM208 320h1v1h-1zM202 306h1v1h-1zM198 317h1v1h-1zM199 321h1v1h-1zM213 325h1v1h-1zM214 319h1v1h-1zM224 296h1v1h-1zM210 321h1v1h-1zM190 321h1v1h-1zM214 328h1v1h-1zM201 318h1v1h-1zM225 311h1v1h-1zM212 327h1v1h-1zM218 331h1v1h-1zM218 314h1v1h-1zM203 322h1v1h-1zM199 324h1v1h-1zM197 321h1v1h-1zM199 327h1v1h-1zM219 329h1v1h-1zM198 308h1v1h-1zM223 314h1v1h-1zM228 311h1v1h-1zM215 333h1v1h-1zM221 301h1v1h-1zM225 316h1v1h-1zM202 312h1v1h-1zM224 300h1v1h-1zM222 301h1v1h-1zM208 321h1v1h-1zM204 319h1v1h-1zM205 302h1v1h-1zM202 330h1v1h-1zM222 323h1v1h-1zM200 326h1v1h-1zM205 320h1v1h-1zM215 323h1v1h-1zM228 308h1v1h-1zM226 301h1v1h-1zM222 305h1v1h-1zM201 316h1v1h-1zM216 305h1v1h-1zM238 309h1v1h-1zM198 306h1v1h-1zM223 322h1v1h-1zM188 312h1v1h-1zM217 320h1v1h-1zM216 317h1v1h-1zM204 309h1v1h-1zM208 314h1v1h-1zM238 316h1v1h-1zM201 304h1v1h-1zM210 331h1v1h-1zM228 318h1v1h-1zM215 309h1v1h-1zM219 301h1v1h-1zM209 316h1v1h-1zM211 320h1v1h-1zM211 327h1v1h-1zM224 316h1v1h-1zM200 306h1v1h-1zM218 299h1v1h-1zM214 329h1v1h-1zM220 313h1v1h-1zM222 306h1v1h-1zM206 332h1v1h-1zM204 316h1v1h-1zM214 308h1v1h-1zM195 311h1v1h-1zM228 300h1v1h-1zM216 330h1v1h-1zM223 335h1v1h-1zM213 299h1v1h-1zM206 303h1v1h-1zM220 332h1v1h-1zM215 336h1v1h-1zM219 336h1v1h-1zM204 328h1v1h-1zM214 339h1v1h-1zM231 322h1v1h-1zM218 336h1v1h-1zM231 323h1v1h-1zM227 316h1v1h-1zM216 336h1v1h-1zM216 331h1v1h-1zM231 326h1v1h-1zM218 319h1v1h-1zM232 319h1v1h-1zM206 326h1v1h-1zM210 337h1v1h-1zM202 333h1v1h-1zM211 324h1v1h-1zM219 327h1v1h-1zM232 332h1v1h-1zM209 320h1v1h-1zM210 338h1v1h-1zM222 319h1v1h-1zM217 337h1v1h-1zM207 333h1v1h-1zM209 330h1v1h-1zM207 325h1v1h-1zM224 322h1v1h-1zM210 336h1v1h-1zM208 331h1v1h-1zM222 335h1v1h-1zM200 337h1v1h-1zM225 325h1v1h-1zM218 330h1v1h-1zM202 331h1v1h-1zM210 326h1v1h-1zM215 330h1v1h-1zM212 330h1v1h-1zM238 337h1v1h-1zM224 329h1v1h-1zM199 328h1v1h-1zM215 334h1v1h-1zM215 324h1v1h-1zM194 331h1v1h-1zM204 322h1v1h-1zM206 335h1v1h-1zM214 327h1v1h-1zM202 334h1v1h-1zM211 330h1v1h-1zM213 329h1v1h-1zM230 338h1v1h-1zM221 329h1v1h-1zM187 328h1v1h-1zM217 338h1v1h-1zM217 329h1v1h-1zM213 334h1v1h-1zM207 337h1v1h-1zM202 332h1v1h-1zM201 327h1v1h-1zM221 324h1v1h-1zM207 334h1v1h-1zM205 334h1v1h-1zM226 326h1v1h-1zM220 323h1v1h-1zM203 335h1v1h-1zM208 328h1v1h-1zM207 330h1v1h-1zM229 322h1v1h-1z" fill="#000" opacity="0.85"/>
<rect x="156.50" y="275.50" width="91.00" height="66.00" fill="none" stroke="#222" stroke-width="1"/>
<line x1="156.10" y1="275.50" x2="156.10" y2="341.50" stroke="#111" stroke-width="1.8" />
<line x1="156.50" y1="341.80" x2="247.50" y2="341.80" stroke="#111" stroke-width="1.6" />
<line x1="153.70" y1="325.00" x2="156.50" y2="325.00" stroke="#222" stroke-width="0.9" />
<line x1="153.70" y1="308.50" x2="156.50" y2="308.50" stroke="#222" stroke-width="0.9" />
<line x1="153.70" y1="292.00" x2="156.50" y2="292.00" stroke="#222" stroke-width="0.9" />
<line x1="153.70" y1="275.50" x2="156.50" y2="275.50" stroke="#222" stroke-width="0.9" />
<line x1="179.25" y1="341.50" x2="179.25" y2="344.10" stroke="#222" stroke-width="0.9" />
<line x1="202.00" y1="341.50" x2="202.00" y2="344.10" stroke="#222" stroke-width="0.9" />
<line x1="224.75" y1="341.50" x2="224.75" y2="344.10" stroke="#222" stroke-width="0.9" />
<line x1="247.50" y1="341.50" x2="247.50" y2="344.10" stroke="#222" stroke-width="0.9" />
<path d="M154.60 336.53H156.50M163.35 341.50V343.30M154.60 333.63H156.50M167.35 341.50V343.30M154.60 331.57H156.50M170.20 341.50V343.30M154.60 329.97H156.50M172.40 341.50V343.30M154.60 328.66H156.50M174.20 341.50V343.30M154.60 327.56H156.50M175.73 341.50V343.30M154.60 326.60H156.50M177.05 341.50V343.30M154.60 325.75H156.50M178.21 341.50V343.30M154.60 320.03H156.50M186.10 341.50V343.30M154.60 317.13H156.50M190.10 341.50V343.30M154.60 315.07H156.50M192.95 341.50V343.30M154.60 313.47H156.50M195.15 341.50V343.30M154.60 312.16H156.50M196.95 341.50V343.30M154.60 311.06H156.50M198.48 341.50V343.30M154.60 310.10H156.50M199.80 341.50V343.30M154.60 309.25H156.50M200.96 341.50V343.30M154.60 303.53H156.50M208.85 341.50V343.30M154.60 300.63H156.50M212.85 341.50V343.30M154.60 298.57H156.50M215.70 341.50V343.30M154.60 296.97H156.50M217.90 341.50V343.30M154.60 295.66H156.50M219.70 341.50V343.30M154.60 294.56H156.50M221.23 341.50V343.30M154.60 293.60H156.50M222.55 341.50V343.30M154.60 292.75H156.50M223.71 341.50V343.30M154.60 287.03H156.50M231.60 341.50V343.30M154.60 284.13H156.50M235.60 341.50V343.30M154.60 282.07H156.50M238.45 341.50V343.30M154.60 280.47H156.50M240.65 341.50V343.30M154.60 279.16H156.50M242.45 341.50V343.30M154.60 278.06H156.50M243.98 341.50V343.30M154.60 277.10H156.50M245.30 341.50V343.30M154.60 276.25H156.50M246.46 341.50V343.30" stroke="#333" stroke-width="0.5" fill="none"/>
<line x1="183.50" y1="275.50" x2="183.50" y2="341.50" stroke="#222" stroke-width="1" />
<line x1="156.50" y1="324.50" x2="247.50" y2="324.50" stroke="#222" stroke-width="1" />
<text x="136.9" y="346.4" font-size="6.8" font-weight="normal" text-anchor="start" fill="#000" stroke="#000" stroke-width="0.2">10</text>
<text x="145.6" y="342.5" font-size="4.6" font-weight="normal" text-anchor="start" fill="#111" >0</text>
<text x="136.9" y="329.9" font-size="6.8" font-weight="normal" text-anchor="start" fill="#000" stroke="#000" stroke-width="0.2">10</text>
<text x="145.6" y="326.0" font-size="4.6" font-weight="normal" text-anchor="start" fill="#111" >1</text>
<text x="136.9" y="313.4" font-size="6.8" font-weight="normal" text-anchor="start" fill="#000" stroke="#000" stroke-width="0.2">10</text>
<text x="145.6" y="309.5" font-size="4.6" font-weight="normal" text-anchor="start" fill="#111" >2</text>
<text x="136.9" y="296.9" font-size="6.8" font-weight="normal" text-anchor="start" fill="#000" stroke="#000" stroke-width="0.2">10</text>
<text x="145.6" y="293.0" font-size="4.6" font-weight="normal" text-anchor="start" fill="#111" >3</text>
<text x="136.9" y="280.4" font-size="6.8" font-weight="normal" text-anchor="start" fill="#000" stroke="#000" stroke-width="0.2">10</text>
<text x="145.6" y="276.5" font-size="4.6" font-weight="normal" text-anchor="start" fill="#111" >4</text>
<text x="145.9" y="358.1" font-size="6.8" font-weight="normal" text-anchor="start" fill="#000" stroke="#000" stroke-width="0.2">10</text>
<text x="153.9" y="353.5" font-size="4.6" font-weight="normal" text-anchor="start" fill="#111" >0</text>
<text x="168.7" y="358.1" font-size="6.8" font-weight="normal" text-anchor="start" fill="#000" stroke="#000" stroke-width="0.2">10</text>
<text x="176.7" y="353.5" font-size="4.6" font-weight="normal" text-anchor="start" fill="#111" >1</text>
<text x="191.4" y="358.1" font-size="6.8" font-weight="normal" text-anchor="start" fill="#000" stroke="#000" stroke-width="0.2">10</text>
<text x="199.4" y="353.5" font-size="4.6" font-weight="normal" text-anchor="start" fill="#111" >2</text>
<text x="214.2" y="358.1" font-size="6.8" font-weight="normal" text-anchor="start" fill="#000" stroke="#000" stroke-width="0.2">10</text>
<text x="222.2" y="353.5" font-size="4.6" font-weight="normal" text-anchor="start" fill="#111" >3</text>
<text x="236.9" y="358.1" font-size="6.8" font-weight="normal" text-anchor="start" fill="#000" stroke="#000" stroke-width="0.2">10</text>
<text x="244.9" y="353.5" font-size="4.6" font-weight="normal" text-anchor="start" fill="#111" >4</text>
<text x="168.0" y="292.3" font-size="10.3" font-weight="normal" text-anchor="start" fill="#000" >0</text>
<text x="227.7" y="291.8" font-size="10.3" font-weight="normal" text-anchor="start" fill="#000" >81</text>
<text x="161.4" y="337.7" font-size="10.3" font-weight="normal" text-anchor="start" fill="#000" >0</text>
<text x="230.1" y="337.7" font-size="10.3" font-weight="normal" text-anchor="start" fill="#000" >19</text>
<path d="M399 310h1v1h-1zM388 308h1v1h-1zM384 306h1v1h-1zM405 312h1v1h-1zM386 304h1v1h-1zM413 303h1v1h-1zM399 317h1v1h-1zM392 312h1v1h-1zM389 311h1v1h-1zM410 324h1v1h-1zM396 317h1v1h-1zM399 303h1v1h-1zM379 307h1v1h-1zM398 311h1v1h-1zM388 310h1v1h-1zM376 305h1v1h-1zM395 319h1v1h-1zM396 301h1v1h-1zM386 315h1v1h-1zM423 314h1v1h-1zM386 318h1v1h-1zM389 309h1v1h-1zM400 312h1v1h-1zM394 304h1v1h-1zM411 303h1v1h-1zM389 316h1v1h-1zM380 320h1v1h-1zM387 320h1v1h-1zM395 306h1v1h-1zM397 320h1v1h-1zM415 317h1v1h-1zM396 312h1v1h-1zM393 302h1v1h-1zM392 311h1v1h-1zM389 313h1v1h-1zM403 307h1v1h-1zM386 323h1v1h-1zM409 319h1v1h-1zM388 305h1v1h-1zM391 304h1v1h-1zM397 308h1v1h-1zM382 309h1v1h-1zM398 313h1v1h-1zM397 313h1v1h-1zM409 300h1v1h-1zM403 318h1v1h-1zM375 303h1v1h-1zM388 322h1v1h-1zM389 317h1v1h-1zM415 309h1v1h-1zM393 309h1v1h-1zM397 296h1v1h-1zM405 315h1v1h-1zM413 324h1v1h-1zM398 307h1v1h-1zM399 313h1v1h-1zM397 316h1v1h-1zM395 308h1v1h-1zM386 307h1v1h-1zM392 314h1v1h-1zM389 306h1v1h-1zM388 311h1v1h-1zM396 319h1v1h-1zM390 316h1v1h-1zM393 307h1v1h-1zM405 303h1v1h-1zM403 304h1v1h-1zM388 312h1v1h-1zM380 312h1v1h-1zM420 317h1v1h-1zM395 316h1v1h-1zM413 314h1v1h-1zM396 305h1v1h-1zM413 304h1v1h-1zM401 309h1v1h-1zM396 308h1v1h-1zM392 317h1v1h-1zM395 312h1v1h-1zM388 307h1v1h-1zM399 311h1v1h-1zM396 307h1v1h-1zM401 320h1v1h-1zM402 301h1v1h-1zM387 313h1v1h-1zM399 315h1v1h-1zM397 311h1v1h-1zM406 336h1v1h-1zM412 313h1v1h-1zM393 298h1v1h-1zM377 315h1v1h-1zM396 322h1v1h-1zM388 321h1v1h-1zM400 322h1v1h-1zM394 302h1v1h-1zM403 324h1v1h-1zM385 309h1v1h-1zM395 307h1v1h-1zM395 318h1v1h-1zM405 316h1v1h-1zM391 309h1v1h-1zM393 323h1v1h-1zM403 325h1v1h-1zM383 298h1v1h-1zM403 311h1v1h-1zM390 308h1v1h-1zM376 311h1v1h-1zM409 309h1v1h-1zM411 311h1v1h-1zM397 309h1v1h-1zM387 319h1v1h-1zM380 328h1v1h-1zM399 316h1v1h-1zM410 301h1v1h-1zM383 316h1v1h-1zM396 323h1v1h-1zM395 315h1v1h-1zM415 306h1v1h-1zM384 308h1v1h-1zM406 303h1v1h-1zM384 307h1v1h-1zM392 308h1v1h-1zM392 304h1v1h-1zM421 324h1v1h-1zM395 301h1v1h-1zM391 303h1v1h-1zM420 321h1v1h-1zM415 307h1v1h-1zM388 315h1v1h-1zM402 316h1v1h-1zM398 302h1v1h-1zM400 297h1v1h-1zM390 304h1v1h-1zM380 304h1v1h-1zM398 310h1v1h-1zM420 301h1v1h-1zM398 305h1v1h-1zM399 309h1v1h-1zM400 315h1v1h-1zM391 318h1v1h-1zM387 305h1v1h-1zM401 310h1v1h-1zM371 315h1v1h-1zM402 317h1v1h-1zM389 307h1v1h-1zM396 316h1v1h-1zM391 322h1v1h-1zM397 299h1v1h-1zM393 311h1v1h-1zM402 308h1v1h-1zM405 308h1v1h-1zM389 310h1v1h-1zM413 312h1v1h-1zM388 299h1v1h-1zM402 314h1v1h-1zM394 308h1v1h-1zM406 319h1v1h-1zM388 309h1v1h-1zM400 309h1v1h-1zM417 321h1v1h-1zM405 300h1v1h-1zM397 297h1v1h-1zM405 323h1v1h-1zM386 308h1v1h-1zM401 313h1v1h-1zM402 310h1v1h-1zM403 312h1v1h-1zM392 313h1v1h-1zM387 309h1v1h-1zM401 315h1v1h-1zM380 305h1v1h-1zM396 297h1v1h-1zM417 302h1v1h-1zM392 324h1v1h-1zM406 312h1v1h-1zM409 318h1v1h-1zM386 314h1v1h-1zM389 303h1v1h-1zM393 316h1v1h-1zM398 303h1v1h-1zM392 307h1v1h-1zM407 306h1v1h-1zM402 312h1v1h-1zM396 314h1v1h-1zM399 314h1v1h-1zM381 313h1v1h-1zM383 320h1v1h-1zM385 326h1v1h-1zM398 314h1v1h-1zM410 310h1v1h-1zM392 315h1v1h-1zM388 303h1v1h-1zM385 313h1v1h-1zM389 308h1v1h-1zM403 314h1v1h-1zM408 313h1v1h-1zM398 317h1v1h-1zM396 315h1v1h-1zM394 307h1v1h-1zM371 308h1v1h-1zM394 309h1v1h-1zM393 326h1v1h-1zM400 314h1v1h-1zM392 309h1v1h-1zM402 302h1v1h-1zM400 294h1v1h-1zM405 302h1v1h-1zM387 310h1v1h-1zM405 319h1v1h-1zM400 313h1v1h-1zM399 312h1v1h-1zM408 310h1v1h-1zM400 308h1v1h-1zM389 320h1v1h-1zM407 313h1v1h-1zM394 315h1v1h-1zM394 319h1v1h-1zM394 310h1v1h-1zM389 326h1v1h-1zM385 322h1v1h-1zM394 313h1v1h-1zM403 309h1v1h-1zM407 309h1v1h-1zM405 307h1v1h-1zM403 316h1v1h-1zM401 329h1v1h-1zM406 310h1v1h-1zM387 302h1v1h-1zM404 318h1v1h-1zM411 321h1v1h-1zM396 309h1v1h-1zM387 314h1v1h-1zM400 310h1v1h-1zM410 312h1v1h-1zM383 311h1v1h-1zM407 317h1v1h-1zM393 317h1v1h-1zM411 304h1v1h-1zM381 316h1v1h-1zM388 302h1v1h-1zM391 310h1v1h-1zM395 317h1v1h-1zM393 301h1v1h-1zM411 309h1v1h-1zM377 320h1v1h-1zM388 319h1v1h-1zM398 309h1v1h-1zM396 299h1v1h-1zM401 298h1v1h-1zM395 299h1v1h-1zM384 319h1v1h-1zM397 319h1v1h-1zM390 310h1v1h-1zM395 305h1v1h-1zM408 306h1v1h-1zM401 308h1v1h-1zM399 307h1v1h-1zM390 309h1v1h-1zM401 302h1v1h-1zM378 318h1v1h-1zM404 298h1v1h-1zM404 307h1v1h-1zM398 320h1v1h-1zM402 309h1v1h-1zM384 300h1v1h-1zM402 311h1v1h-1zM410 309h1v1h-1zM387 315h1v1h-1zM391 315h1v1h-1zM402 320h1v1h-1zM392 322h1v1h-1zM406 317h1v1h-1zM396 311h1v1h-1zM384 304h1v1h-1zM397 323h1v1h-1zM390 305h1v1h-1zM406 325h1v1h-1zM403 310h1v1h-1zM404 305h1v1h-1zM395 304h1v1h-1zM398 315h1v1h-1zM394 312h1v1h-1zM409 305h1v1h-1zM389 315h1v1h-1zM385 315h1v1h-1zM395 321h1v1h-1zM404 301h1v1h-1zM390 303h1v1h-1zM387 306h1v1h-1zM404 297h1v1h-1zM404 313h1v1h-1zM405 309h1v1h-1zM404 309h1v1h-1zM403 319h1v1h-1zM398 319h1v1h-1zM401 304h1v1h-1zM406 308h1v1h-1zM397 300h1v1h-1zM385 312h1v1h-1zM389 318h1v1h-1zM402 332h1v1h-1zM414 311h1v1h-1zM391 319h1v1h-1zM393 313h1v1h-1zM394 324h1v1h-1zM381 312h1v1h-1zM409 316h1v1h-1zM408 304h1v1h-1zM382 313h1v1h-1zM385 314h1v1h-1zM405 314h1v1h-1zM394 305h1v1h-1zM404 315h1v1h-1zM396 302h1v1h-1zM400 306h1v1h-1zM390 317h1v1h-1zM393 308h1v1h-1zM395 310h1v1h-1zM406 306h1v1h-1zM383 313h1v1h-1zM390 314h1v1h-1zM390 318h1v1h-1zM390 312h1v1h-1zM406 311h1v1h-1zM407 310h1v1h-1zM396 313h1v1h-1zM381 306h1v1h-1zM399 321h1v1h-1zM391 301h1v1h-1zM408 309h1v1h-1zM401 299h1v1h-1zM386 303h1v1h-1zM402 313h1v1h-1zM397 315h1v1h-1zM405 306h1v1h-1zM404 317h1v1h-1zM417 310h1v1h-1zM381 302h1v1h-1zM396 306h1v1h-1zM387 312h1v1h-1zM397 314h1v1h-1zM408 305h1v1h-1zM419 314h1v1h-1zM404 311h1v1h-1zM401 319h1v1h-1zM413 313h1v1h-1zM407 304h1v1h-1zM401 311h1v1h-1zM381 307h1v1h-1zM395 313h1v1h-1zM386 316h1v1h-1zM399 327h1v1h-1zM405 310h1v1h-1zM393 305h1v1h-1zM403 321h1v1h-1zM404 312h1v1h-1zM394 323h1v1h-1zM400 316h1v1h-1zM401 324h1v1h-1zM373 307h1v1h-1zM388 317h1v1h-1zM386 311h1v1h-1zM397 306h1v1h-1zM381 305h1v1h-1zM378 306h1v1h-1zM394 317h1v1h-1zM404 321h1v1h-1zM399 320h1v1h-1zM400 307h1v1h-1zM393 303h1v1h-1zM412 305h1v1h-1zM387 293h1v1h-1zM406 315h1v1h-1zM402 307h1v1h-1zM396 310h1v1h-1zM385 306h1v1h-1zM380 318h1v1h-1zM414 309h1v1h-1zM404 324h1v1h-1zM391 313h1v1h-1zM399 305h1v1h-1zM405 298h1v1h-1zM360 312h1v1h-1zM355 308h1v1h-1zM344 304h1v1h-1zM362 310h1v1h-1zM358 306h1v1h-1zM357 308h1v1h-1zM359 312h1v1h-1zM360 308h1v1h-1zM358 314h1v1h-1zM364 309h1v1h-1zM356 307h1v1h-1zM365 311h1v1h-1zM354 307h1v1h-1zM354 308h1v1h-1zM349 309h1v1h-1zM351 311h1v1h-1zM348 308h1v1h-1zM363 304h1v1h-1zM351 317h1v1h-1zM355 310h1v1h-1zM356 311h1v1h-1zM343 314h1v1h-1zM353 299h1v1h-1zM371 306h1v1h-1zM363 309h1v1h-1zM380 327h1v1h-1zM399 329h1v1h-1zM384 324h1v1h-1zM388 330h1v1h-1zM404 326h1v1h-1zM395 326h1v1h-1zM398 325h1v1h-1zM401 326h1v1h-1zM421 322h1v1h-1zM386 327h1v1h-1zM409 324h1v1h-1zM377 323h1v1h-1zM396 331h1v1h-1zM396 320h1v1h-1zM413 332h1v1h-1zM385 340h1v1h-1zM382 333h1v1h-1zM361 324h1v1h-1zM391 326h1v1h-1zM369 334h1v1h-1zM391 337h1v1h-1zM385 331h1v1h-1zM371 320h1v1h-1zM390 335h1v1h-1zM400 321h1v1h-1zM393 321h1v1h-1zM408 329h1v1h-1zM384 325h1v1h-1zM388 314h1v1h-1zM379 323h1v1h-1zM411 330h1v1h-1zM415 320h1v1h-1zM387 338h1v1h-1zM399 333h1v1h-1zM392 333h1v1h-1zM413 322h1v1h-1zM416 337h1v1h-1zM385 329h1v1h-1zM399 337h1v1h-1zM367 334h1v1h-1zM414 326h1v1h-1zM381 308h1v1h-1zM376 338h1v1h-1zM396 333h1v1h-1zM395 327h1v1h-1zM381 326h1v1h-1zM405 326h1v1h-1z" fill="#000" opacity="0.85"/>
<rect x="341.50" y="275.50" width="93.00" height="66.00" fill="none" stroke="#222" stroke-width="1"/>
<line x1="341.10" y1="275.50" x2="341.10" y2="341.50" stroke="#111" stroke-width="1.8" />
<line x1="341.50" y1="341.80" x2="434.50" y2="341.80" stroke="#111" stroke-width="1.6" />
<line x1="338.70" y1="325.00" x2="341.50" y2="325.00" stroke="#222" stroke-width="0.9" />
<line x1="338.70" y1="308.50" x2="341.50" y2="308.50" stroke="#222" stroke-width="0.9" />
<line x1="338.70" y1="292.00" x2="341.50" y2="292.00" stroke="#222" stroke-width="0.9" />
<line x1="338.70" y1="275.50" x2="341.50" y2="275.50" stroke="#222" stroke-width="0.9" />
<line x1="364.75" y1="341.50" x2="364.75" y2="344.10" stroke="#222" stroke-width="0.9" />
<line x1="388.00" y1="341.50" x2="388.00" y2="344.10" stroke="#222" stroke-width="0.9" />
<line x1="411.25" y1="341.50" x2="411.25" y2="344.10" stroke="#222" stroke-width="0.9" />
<line x1="434.50" y1="341.50" x2="434.50" y2="344.10" stroke="#222" stroke-width="0.9" />
<path d="M339.60 336.53H341.50M348.50 341.50V343.30M339.60 333.63H341.50M352.59 341.50V343.30M339.60 331.57H341.50M355.50 341.50V343.30M339.60 329.97H341.50M357.75 341.50V343.30M339.60 328.66H341.50M359.59 341.50V343.30M339.60 327.56H341.50M361.15 341.50V343.30M339.60 326.60H341.50M362.50 341.50V343.30M339.60 325.75H341.50M363.69 341.50V343.30M339.60 320.03H341.50M371.75 341.50V343.30M339.60 317.13H341.50M375.84 341.50V343.30M339.60 315.07H341.50M378.75 341.50V343.30M339.60 313.47H341.50M381.00 341.50V343.30M339.60 312.16H341.50M382.84 341.50V343.30M339.60 311.06H341.50M384.40 341.50V343.30M339.60 310.10H341.50M385.75 341.50V343.30M339.60 309.25H341.50M386.94 341.50V343.30M339.60 303.53H341.50M395.00 341.50V343.30M339.60 300.63H341.50M399.09 341.50V343.30M339.60 298.57H341.50M402.00 341.50V343.30M339.60 296.97H341.50M404.25 341.50V343.30M339.60 295.66H341.50M406.09 341.50V343.30M339.60 294.56H341.50M407.65 341.50V343.30M339.60 293.60H341.50M409.00 341.50V343.30M339.60 292.75H341.50M410.19 341.50V343.30M339.60 287.03H341.50M418.25 341.50V343.30M339.60 284.13H341.50M422.34 341.50V343.30M339.60 282.07H341.50M425.25 341.50V343.30M339.60 280.47H341.50M427.50 341.50V343.30M339.60 279.16H341.50M429.34 341.50V343.30M339.60 278.06H341.50M430.90 341.50V343.30M339.60 277.10H341.50M432.25 341.50V343.30M339.60 276.25H341.50M433.44 341.50V343.30" stroke="#333" stroke-width="0.5" fill="none"/>
<line x1="368.50" y1="275.50" x2="368.50" y2="341.50" stroke="#222" stroke-width="1" />
<line x1="341.50" y1="324.50" x2="434.50" y2="324.50" stroke="#222" stroke-width="1" />
<text x="320.6" y="346.4" font-size="6.8" font-weight="normal" text-anchor="start" fill="#000" stroke="#000" stroke-width="0.2">10</text>
<text x="329.7" y="342.5" font-size="4.6" font-weight="normal" text-anchor="start" fill="#111" >0</text>
<text x="320.6" y="329.9" font-size="6.8" font-weight="normal" text-anchor="start" fill="#000" stroke="#000" stroke-width="0.2">10</text>
<text x="329.7" y="326.0" font-size="4.6" font-weight="normal" text-anchor="start" fill="#111" >1</text>
<text x="320.6" y="313.4" font-size="6.8" font-weight="normal" text-anchor="start" fill="#000" stroke="#000" stroke-width="0.2">10</text>
<text x="329.7" y="309.5" font-size="4.6" font-weight="normal" text-anchor="start" fill="#111" >2</text>
<text x="320.6" y="296.9" font-size="6.8" font-weight="normal" text-anchor="start" fill="#000" stroke="#000" stroke-width="0.2">10</text>
<text x="329.7" y="293.0" font-size="4.6" font-weight="normal" text-anchor="start" fill="#111" >3</text>
<text x="320.6" y="280.4" font-size="6.8" font-weight="normal" text-anchor="start" fill="#000" stroke="#000" stroke-width="0.2">10</text>
<text x="329.7" y="276.5" font-size="4.6" font-weight="normal" text-anchor="start" fill="#111" >4</text>
<text x="333.4" y="358.1" font-size="6.8" font-weight="normal" text-anchor="start" fill="#000" stroke="#000" stroke-width="0.2">10</text>
<text x="341.4" y="353.5" font-size="4.6" font-weight="normal" text-anchor="start" fill="#111" >0</text>
<text x="356.6" y="358.1" font-size="6.8" font-weight="normal" text-anchor="start" fill="#000" stroke="#000" stroke-width="0.2">10</text>
<text x="364.6" y="353.5" font-size="4.6" font-weight="normal" text-anchor="start" fill="#111" >1</text>
<text x="379.9" y="358.1" font-size="6.8" font-weight="normal" text-anchor="start" fill="#000" stroke="#000" stroke-width="0.2">10</text>
<text x="387.9" y="353.5" font-size="4.6" font-weight="normal" text-anchor="start" fill="#111" >2</text>
<text x="403.1" y="358.1" font-size="6.8" font-weight="normal" text-anchor="start" fill="#000" stroke="#000" stroke-width="0.2">10</text>
<text x="411.1" y="353.5" font-size="4.6" font-weight="normal" text-anchor="start" fill="#111" >3</text>
<text x="426.4" y="358.1" font-size="6.8" font-weight="normal" text-anchor="start" fill="#000" stroke="#000" stroke-width="0.2">10</text>
<text x="434.4" y="353.5" font-size="4.6" font-weight="normal" text-anchor="start" fill="#111" >4</text>
<text x="351.3" y="292.5" font-size="10.3" font-weight="normal" text-anchor="start" fill="#000" >4</text>
<text x="415.0" y="292.5" font-size="10.3" font-weight="normal" text-anchor="start" fill="#000" >83</text>
<text x="348.0" y="338.2" font-size="10.3" font-weight="normal" text-anchor="start" fill="#000" >0</text>
<text x="417.0" y="336.8" font-size="10.3" font-weight="normal" text-anchor="start" fill="#000" >13</text>
<text x="269.7" y="52.3" font-size="10.3" fill="#000">TGF-<tspan font-family="'Liberation Serif', serif" font-size="10.8">β1</tspan></text>
<path d="M269.2 60.3H298.2V58.6L308.7 61.9L298.2 65.2V63.5H269.2Z" fill="#fff" stroke="#222" stroke-width="0.9"/>
<text x="269.7" y="173.0" font-size="10.3" fill="#000">TGF-<tspan font-family="'Liberation Serif', serif" font-size="10.8">β1</tspan></text>
<path d="M269.2 181.4H298.2V179.7L308.7 183.0L298.2 186.3V184.6H269.2Z" fill="#fff" stroke="#222" stroke-width="0.9"/>
<text x="269.7" y="304.6" font-size="10.3" fill="#000">TGF-<tspan font-family="'Liberation Serif', serif" font-size="10.8">β1</tspan></text>
<path d="M269.2 311.7H298.2V310.0L308.7 313.3L298.2 316.6V314.9H269.2Z" fill="#fff" stroke="#222" stroke-width="0.9"/>
<text x="0.0" y="0.0" font-size="10.3" font-weight="normal" text-anchor="start" fill="#000" transform="translate(125.6,333.8) rotate(-90)">NKG2D</text>
<path d="M121.5 339.4V368.5H170.3" fill="none" stroke="#444" stroke-width="1"/>
<text x="189.0" y="370.4" font-size="10.4" font-weight="normal" text-anchor="start" fill="#000" >4-1BB</text>
<text x="-0.8" y="407.7" font-size="18.5" font-weight="bold" text-anchor="start" fill="#000" >B</text>
<rect x="131.5" y="393.5" width="217.5" height="25" fill="#fff" stroke="#555" stroke-width="1"/>
<rect x="139.3" y="401.2" width="14" height="10.8" fill="#000"/>
<text x="161.2" y="409.6" font-size="11" font-weight="bold" fill="#000">Before TGF-β1</text>
<rect x="242.5" y="400" width="15.8" height="11.8" fill="#c0c0c0" stroke="#333" stroke-width="1.1"/>
<text x="266.6" y="409.6" font-size="11" font-weight="bold" fill="#000">After TGF-β1</text>
<text x="16.8" y="450.0" font-size="16" font-weight="bold" text-anchor="start" fill="#000" >i</text>
<text x="84.0" y="450.0" font-size="10.4" font-weight="bold" text-anchor="middle" fill="#000" >Control</text>
<rect x="38.5" y="464.5" width="94.0" height="164.0" fill="#fff" stroke="#3a3a3a" stroke-width="1"/>
<line x1="38.50" y1="628.50" x2="132.50" y2="628.50" stroke="#111" stroke-width="1.2" />
<line x1="35.50" y1="628.50" x2="38.50" y2="628.50" stroke="#222" stroke-width="1" />
<text x="33.2" y="632.0" font-size="8.7" font-weight="bold" text-anchor="end" fill="#000" >0</text>
<line x1="35.50" y1="595.50" x2="38.50" y2="595.50" stroke="#222" stroke-width="1" />
<text x="33.2" y="599.2" font-size="8.7" font-weight="bold" text-anchor="end" fill="#000" >20</text>
<line x1="35.50" y1="562.50" x2="38.50" y2="562.50" stroke="#222" stroke-width="1" />
<text x="33.2" y="566.4" font-size="8.7" font-weight="bold" text-anchor="end" fill="#000" >40</text>
<line x1="35.50" y1="530.50" x2="38.50" y2="530.50" stroke="#222" stroke-width="1" />
<text x="33.2" y="533.6" font-size="8.7" font-weight="bold" text-anchor="end" fill="#000" >60</text>
<line x1="35.50" y1="497.50" x2="38.50" y2="497.50" stroke="#222" stroke-width="1" />
<text x="33.2" y="500.8" font-size="8.7" font-weight="bold" text-anchor="end" fill="#000" >80</text>
<line x1="35.50" y1="464.50" x2="38.50" y2="464.50" stroke="#222" stroke-width="1" />
<text x="33.2" y="468.0" font-size="8.7" font-weight="bold" text-anchor="end" fill="#000" >100</text>
<rect x="58" y="519" width="28" height="109.5" fill="#000"/>
<rect x="85.5" y="600.5" width="28" height="28.0" fill="#c0c0c0" stroke="#222" stroke-width="1"/>
<line x1="72.50" y1="518.62" x2="72.50" y2="509.50" stroke="#222" stroke-width="1" />
<line x1="70.00" y1="509.50" x2="75.00" y2="509.50" stroke="#222" stroke-width="1" />
<line x1="100.50" y1="588.50" x2="100.50" y2="611.50" stroke="#222" stroke-width="1" />
<line x1="98.00" y1="588.50" x2="103.00" y2="588.50" stroke="#222" stroke-width="1" />
<line x1="98.00" y1="611.50" x2="103.00" y2="611.50" stroke="#222" stroke-width="1" />
<path d="M71.5 499V488.5H99.5V555.5" fill="none" stroke="#111" stroke-width="1.2"/>
<text x="84.0" y="481.0" font-size="10.5" font-weight="bold" text-anchor="middle" fill="#111" >P &lt; 0.05</text>
<text x="0.0" y="0.0" font-size="11" font-weight="normal" text-anchor="start" fill="#000" transform="translate(12.8,596) rotate(-90)">Subset cells (%)</text>
<text x="53" y="646.5" font-size="11" font-weight="bold" fill="#000">NKG2D<tspan dy="-3.8" font-size="8">+</tspan></text>
<text x="53" y="662.5" font-size="11" font-weight="bold" fill="#000">4-1BB<tspan dy="-3.8" font-size="8">-</tspan><tspan dy="3.8"> cells</tspan></text>
<text x="156.6" y="450.0" font-size="16" font-weight="bold" text-anchor="start" fill="#000" >ii</text>
<text x="262.0" y="452.3" font-size="10.9" font-weight="bold" text-anchor="middle" fill="#000" >Anti-4-1BB</text>
<rect x="177.5" y="465.5" width="174.0" height="161.0" fill="#fff" stroke="#3a3a3a" stroke-width="1"/>
<line x1="177.50" y1="626.50" x2="351.50" y2="626.50" stroke="#111" stroke-width="1.2" />
<line x1="174.50" y1="626.50" x2="177.50" y2="626.50" stroke="#222" stroke-width="1" />
<text x="172.2" y="630.0" font-size="8.7" font-weight="bold" text-anchor="end" fill="#000" >0</text>
<line x1="174.50" y1="594.50" x2="177.50" y2="594.50" stroke="#222" stroke-width="1" />
<text x="172.2" y="597.8" font-size="8.7" font-weight="bold" text-anchor="end" fill="#000" >20</text>
<line x1="174.50" y1="562.50" x2="177.50" y2="562.50" stroke="#222" stroke-width="1" />
<text x="172.2" y="565.6" font-size="8.7" font-weight="bold" text-anchor="end" fill="#000" >40</text>
<line x1="174.50" y1="529.50" x2="177.50" y2="529.50" stroke="#222" stroke-width="1" />
<text x="172.2" y="533.4" font-size="8.7" font-weight="bold" text-anchor="end" fill="#000" >60</text>
<line x1="174.50" y1="497.50" x2="177.50" y2="497.50" stroke="#222" stroke-width="1" />
<text x="172.2" y="501.2" font-size="8.7" font-weight="bold" text-anchor="end" fill="#000" >80</text>
<line x1="174.50" y1="465.50" x2="177.50" y2="465.50" stroke="#222" stroke-width="1" />
<text x="172.2" y="469.0" font-size="8.7" font-weight="bold" text-anchor="end" fill="#000" >100</text>
<rect x="197" y="563" width="27" height="63.5" fill="#000"/>
<rect x="223.5" y="616.5" width="27" height="10.0" fill="#c0c0c0" stroke="#222" stroke-width="1"/>
<line x1="210.50" y1="562.90" x2="210.50" y2="548.50" stroke="#222" stroke-width="1" />
<line x1="208.00" y1="548.50" x2="213.00" y2="548.50" stroke="#222" stroke-width="1" />
<line x1="237.50" y1="613.50" x2="237.50" y2="618.50" stroke="#222" stroke-width="1" />
<line x1="235.00" y1="613.50" x2="240.00" y2="613.50" stroke="#222" stroke-width="1" />
<line x1="235.00" y1="618.50" x2="240.00" y2="618.50" stroke="#222" stroke-width="1" />
<rect x="276" y="560" width="27" height="66.5" fill="#000"/>
<rect x="302.5" y="573.5" width="27" height="53.0" fill="#c0c0c0" stroke="#222" stroke-width="1"/>
<line x1="289.50" y1="560.49" x2="289.50" y2="547.50" stroke="#222" stroke-width="1" />
<line x1="287.00" y1="547.50" x2="292.00" y2="547.50" stroke="#222" stroke-width="1" />
<line x1="316.50" y1="567.50" x2="316.50" y2="579.50" stroke="#222" stroke-width="1" />
<line x1="314.00" y1="567.50" x2="319.00" y2="567.50" stroke="#222" stroke-width="1" />
<line x1="314.00" y1="579.50" x2="319.00" y2="579.50" stroke="#222" stroke-width="1" />
<path d="M208.5 522.7V508.5H236.5V576.5" fill="none" stroke="#111" stroke-width="1.2"/>
<text x="221.0" y="501.0" font-size="10.5" font-weight="bold" text-anchor="middle" fill="#111" >P &lt; 0.05</text>
<path d="M289.5 528.5V514.5H314.5V528.5" fill="none" stroke="#111" stroke-width="1.2"/>
<text x="302.0" y="505.5" font-size="10.5" font-weight="bold" text-anchor="middle" fill="#111" >NS</text>
<text x="191" y="646.5" font-size="11" font-weight="bold" fill="#000">NKG2D<tspan dy="-3.8" font-size="8">+</tspan></text>
<text x="191" y="662.5" font-size="11" font-weight="bold" fill="#000">4-1BB<tspan dy="-3.8" font-size="8">-</tspan><tspan dy="3.8"> cells</tspan></text>
<text x="275" y="646.5" font-size="11" font-weight="bold" fill="#000">NKG2D<tspan dy="-3.8" font-size="8">+</tspan></text>
<text x="275" y="662.5" font-size="11" font-weight="bold" fill="#000">4-1BB<tspan dy="-3.8" font-size="8">+</tspan><tspan dy="3.8"> cells</tspan></text>
<text x="375.8" y="450.0" font-size="16" font-weight="bold" text-anchor="start" fill="#000" >iii</text>
<text x="393.8" y="449.0" font-size="11" font-weight="bold" text-anchor="start" fill="#000" >Anti-NKG2D/Anti-4-1BB</text>
<rect x="396.5" y="463.5" width="95.0" height="165.0" fill="#fff" stroke="#3a3a3a" stroke-width="1"/>
<line x1="396.50" y1="628.50" x2="491.50" y2="628.50" stroke="#111" stroke-width="1.2" />
<line x1="393.50" y1="628.50" x2="396.50" y2="628.50" stroke="#222" stroke-width="1" />
<text x="377.3" y="633.7" font-size="8.7" font-weight="bold" text-anchor="start" fill="#000" >0</text>
<line x1="393.50" y1="595.50" x2="396.50" y2="595.50" stroke="#222" stroke-width="1" />
<text x="377.3" y="600.7" font-size="8.7" font-weight="bold" text-anchor="start" fill="#000" >20</text>
<line x1="393.50" y1="562.50" x2="396.50" y2="562.50" stroke="#222" stroke-width="1" />
<text x="377.3" y="567.7" font-size="8.7" font-weight="bold" text-anchor="start" fill="#000" >40</text>
<line x1="393.50" y1="529.50" x2="396.50" y2="529.50" stroke="#222" stroke-width="1" />
<text x="377.3" y="534.7" font-size="8.7" font-weight="bold" text-anchor="start" fill="#000" >60</text>
<line x1="393.50" y1="496.50" x2="396.50" y2="496.50" stroke="#222" stroke-width="1" />
<text x="377.3" y="501.7" font-size="8.7" font-weight="bold" text-anchor="start" fill="#000" >80</text>
<line x1="393.50" y1="463.50" x2="396.50" y2="463.50" stroke="#222" stroke-width="1" />
<text x="377.3" y="468.7" font-size="8.7" font-weight="bold" text-anchor="start" fill="#000" >100</text>
<rect x="417" y="507" width="28" height="121.5" fill="#000"/>
<rect x="444.5" y="506.5" width="28" height="122.0" fill="#c0c0c0" stroke="#222" stroke-width="1"/>
<line x1="431.50" y1="507.23" x2="431.50" y2="497.50" stroke="#222" stroke-width="1" />
<line x1="429.00" y1="497.50" x2="434.00" y2="497.50" stroke="#222" stroke-width="1" />
<line x1="459.50" y1="490.50" x2="459.50" y2="520.50" stroke="#222" stroke-width="1" />
<line x1="457.00" y1="490.50" x2="462.00" y2="490.50" stroke="#222" stroke-width="1" />
<line x1="457.00" y1="520.50" x2="462.00" y2="520.50" stroke="#222" stroke-width="1" />
<path d="M430.5 484V479.5H457.5V484" fill="none" stroke="#111" stroke-width="1.2"/>
<text x="443.0" y="474.0" font-size="10.5" font-weight="bold" text-anchor="middle" fill="#111" >NS</text>
<text x="414.5" y="646.5" font-size="11" font-weight="bold" fill="#000">NKG2D<tspan dy="-3.8" font-size="8">+</tspan></text>
<text x="414.5" y="662" font-size="11" font-weight="bold" fill="#000">4-1BB<tspan dy="-3.8" font-size="8">+</tspan><tspan dy="3.8"> cells</tspan></text>
</svg>
</body></html>
